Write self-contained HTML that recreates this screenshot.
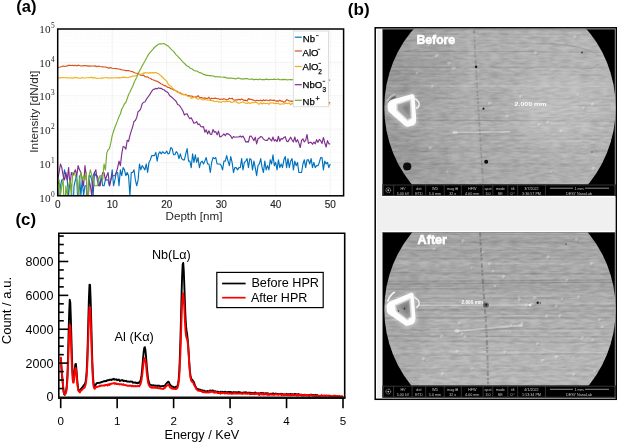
<!DOCTYPE html><html><head><meta charset="utf-8"><style>html,body{margin:0;padding:0;background:#fff;}body{width:617px;height:442px;overflow:hidden;position:relative;font-family:"Liberation Sans",sans-serif;}</style></head><body><svg width="617" height="442" viewBox="0 0 617 442" font-family="Liberation Sans, sans-serif" style="position:absolute;left:0;top:0;filter:blur(0.3px)"><defs><clipPath id="ca"><rect x="57.7" y="29" width="285.9" height="166.8"/></clipPath><clipPath id="cc"><rect x="58.8" y="233.3" width="285.9" height="164.5"/></clipPath></defs><line x1="112.2" y1="29" x2="112.2" y2="195.8" stroke="#ebebeb" stroke-width="0.6"/><line x1="166.7" y1="29" x2="166.7" y2="195.8" stroke="#ebebeb" stroke-width="0.6"/><line x1="221.2" y1="29" x2="221.2" y2="195.8" stroke="#ebebeb" stroke-width="0.6"/><line x1="275.7" y1="29" x2="275.7" y2="195.8" stroke="#ebebeb" stroke-width="0.6"/><line x1="330.2" y1="29" x2="330.2" y2="195.8" stroke="#ebebeb" stroke-width="0.6"/><line x1="57.7" y1="185.76" x2="343.6" y2="185.76" stroke="#f1f1f1" stroke-width="0.5" stroke-dasharray="1.2 1"/><line x1="57.7" y1="179.88" x2="343.6" y2="179.88" stroke="#f1f1f1" stroke-width="0.5" stroke-dasharray="1.2 1"/><line x1="57.7" y1="175.72" x2="343.6" y2="175.72" stroke="#f1f1f1" stroke-width="0.5" stroke-dasharray="1.2 1"/><line x1="57.7" y1="172.48" x2="343.6" y2="172.48" stroke="#f1f1f1" stroke-width="0.5" stroke-dasharray="1.2 1"/><line x1="57.7" y1="169.84" x2="343.6" y2="169.84" stroke="#f1f1f1" stroke-width="0.5" stroke-dasharray="1.2 1"/><line x1="57.7" y1="167.61" x2="343.6" y2="167.61" stroke="#f1f1f1" stroke-width="0.5" stroke-dasharray="1.2 1"/><line x1="57.7" y1="165.67" x2="343.6" y2="165.67" stroke="#f1f1f1" stroke-width="0.5" stroke-dasharray="1.2 1"/><line x1="57.7" y1="163.97" x2="343.6" y2="163.97" stroke="#f1f1f1" stroke-width="0.5" stroke-dasharray="1.2 1"/><line x1="57.7" y1="162.44" x2="343.6" y2="162.44" stroke="#ebebeb" stroke-width="0.6"/><line x1="57.7" y1="152.4" x2="343.6" y2="152.4" stroke="#f1f1f1" stroke-width="0.5" stroke-dasharray="1.2 1"/><line x1="57.7" y1="146.52" x2="343.6" y2="146.52" stroke="#f1f1f1" stroke-width="0.5" stroke-dasharray="1.2 1"/><line x1="57.7" y1="142.36" x2="343.6" y2="142.36" stroke="#f1f1f1" stroke-width="0.5" stroke-dasharray="1.2 1"/><line x1="57.7" y1="139.12" x2="343.6" y2="139.12" stroke="#f1f1f1" stroke-width="0.5" stroke-dasharray="1.2 1"/><line x1="57.7" y1="136.48" x2="343.6" y2="136.48" stroke="#f1f1f1" stroke-width="0.5" stroke-dasharray="1.2 1"/><line x1="57.7" y1="134.25" x2="343.6" y2="134.25" stroke="#f1f1f1" stroke-width="0.5" stroke-dasharray="1.2 1"/><line x1="57.7" y1="132.31" x2="343.6" y2="132.31" stroke="#f1f1f1" stroke-width="0.5" stroke-dasharray="1.2 1"/><line x1="57.7" y1="130.61" x2="343.6" y2="130.61" stroke="#f1f1f1" stroke-width="0.5" stroke-dasharray="1.2 1"/><line x1="57.7" y1="129.08" x2="343.6" y2="129.08" stroke="#ebebeb" stroke-width="0.6"/><line x1="57.7" y1="119.04" x2="343.6" y2="119.04" stroke="#f1f1f1" stroke-width="0.5" stroke-dasharray="1.2 1"/><line x1="57.7" y1="113.16" x2="343.6" y2="113.16" stroke="#f1f1f1" stroke-width="0.5" stroke-dasharray="1.2 1"/><line x1="57.7" y1="109" x2="343.6" y2="109" stroke="#f1f1f1" stroke-width="0.5" stroke-dasharray="1.2 1"/><line x1="57.7" y1="105.76" x2="343.6" y2="105.76" stroke="#f1f1f1" stroke-width="0.5" stroke-dasharray="1.2 1"/><line x1="57.7" y1="103.12" x2="343.6" y2="103.12" stroke="#f1f1f1" stroke-width="0.5" stroke-dasharray="1.2 1"/><line x1="57.7" y1="100.89" x2="343.6" y2="100.89" stroke="#f1f1f1" stroke-width="0.5" stroke-dasharray="1.2 1"/><line x1="57.7" y1="98.95" x2="343.6" y2="98.95" stroke="#f1f1f1" stroke-width="0.5" stroke-dasharray="1.2 1"/><line x1="57.7" y1="97.25" x2="343.6" y2="97.25" stroke="#f1f1f1" stroke-width="0.5" stroke-dasharray="1.2 1"/><line x1="57.7" y1="95.72" x2="343.6" y2="95.72" stroke="#ebebeb" stroke-width="0.6"/><line x1="57.7" y1="85.68" x2="343.6" y2="85.68" stroke="#f1f1f1" stroke-width="0.5" stroke-dasharray="1.2 1"/><line x1="57.7" y1="79.8" x2="343.6" y2="79.8" stroke="#f1f1f1" stroke-width="0.5" stroke-dasharray="1.2 1"/><line x1="57.7" y1="75.64" x2="343.6" y2="75.64" stroke="#f1f1f1" stroke-width="0.5" stroke-dasharray="1.2 1"/><line x1="57.7" y1="72.4" x2="343.6" y2="72.4" stroke="#f1f1f1" stroke-width="0.5" stroke-dasharray="1.2 1"/><line x1="57.7" y1="69.76" x2="343.6" y2="69.76" stroke="#f1f1f1" stroke-width="0.5" stroke-dasharray="1.2 1"/><line x1="57.7" y1="67.53" x2="343.6" y2="67.53" stroke="#f1f1f1" stroke-width="0.5" stroke-dasharray="1.2 1"/><line x1="57.7" y1="65.59" x2="343.6" y2="65.59" stroke="#f1f1f1" stroke-width="0.5" stroke-dasharray="1.2 1"/><line x1="57.7" y1="63.89" x2="343.6" y2="63.89" stroke="#f1f1f1" stroke-width="0.5" stroke-dasharray="1.2 1"/><line x1="57.7" y1="62.36" x2="343.6" y2="62.36" stroke="#ebebeb" stroke-width="0.6"/><line x1="57.7" y1="52.32" x2="343.6" y2="52.32" stroke="#f1f1f1" stroke-width="0.5" stroke-dasharray="1.2 1"/><line x1="57.7" y1="46.44" x2="343.6" y2="46.44" stroke="#f1f1f1" stroke-width="0.5" stroke-dasharray="1.2 1"/><line x1="57.7" y1="42.28" x2="343.6" y2="42.28" stroke="#f1f1f1" stroke-width="0.5" stroke-dasharray="1.2 1"/><line x1="57.7" y1="39.04" x2="343.6" y2="39.04" stroke="#f1f1f1" stroke-width="0.5" stroke-dasharray="1.2 1"/><line x1="57.7" y1="36.4" x2="343.6" y2="36.4" stroke="#f1f1f1" stroke-width="0.5" stroke-dasharray="1.2 1"/><line x1="57.7" y1="34.17" x2="343.6" y2="34.17" stroke="#f1f1f1" stroke-width="0.5" stroke-dasharray="1.2 1"/><line x1="57.7" y1="32.23" x2="343.6" y2="32.23" stroke="#f1f1f1" stroke-width="0.5" stroke-dasharray="1.2 1"/><line x1="57.7" y1="30.53" x2="343.6" y2="30.53" stroke="#f1f1f1" stroke-width="0.5" stroke-dasharray="1.2 1"/><g clip-path="url(#ca)" fill="none" stroke-width="1.15" stroke-linejoin="round"><path d="M57.7 185.76L59.06 215.82L60.43 185.76L61.79 179.88L63.15 179.88L64.51 169.84L65.88 175.72L67.24 179.88L68.6 195.8L69.96 179.88L71.33 185.76L72.69 215.82L74.05 185.76L75.41 179.88L76.78 175.72L78.14 215.82L79.5 175.72L80.86 195.8L82.23 179.88L83.59 195.8L84.95 185.76L86.31 185.76L87.68 215.82L89.04 175.72L90.4 175.72L91.76 179.88L93.12 195.8L94.49 172.48L95.85 175.72L97.21 175.72L98.58 179.88L99.94 185.76L101.3 175.72L102.66 185.76L104.03 185.76L105.39 179.88L106.75 179.88L108.11 179.88L109.47 185.76L110.84 179.88L112.2 169.84L113.56 185.76L114.93 179.88L116.29 172.48L117.65 172.48L119.01 185.76L120.38 169.84L121.74 175.72L123.1 167.61L124.46 169.84L125.83 175.72L127.19 172.48L128.55 175.72L129.91 195.8L131.28 172.48L132.64 172.48L134 169.84L135.36 179.88L136.73 185.76L138.09 179.88L139.45 163.97L140.81 169.84L142.18 165.67L143.54 167.61L144.9 169.84L146.26 163.97L147.62 172.48L148.99 162.44L150.35 159.8L151.71 155.63L153.07 155.63L154.44 155.63L155.8 152.4L157.16 161.06L158.53 153.92L159.89 151.69L161.25 153.92L162.61 151.69L163.98 153.14L165.34 153.14L166.7 151.02L168.06 153.92L169.43 153.14L170.79 147.52L172.15 148.6L173.51 154.75L174.88 154.75L176.24 151.69L177.6 153.14L178.96 158.64L180.32 153.92L181.69 158.64L183.05 159.8L184.41 159.8L185.78 153.92L187.14 148.6L188.5 161.06L189.86 161.06L191.23 167.61L192.59 153.92L193.95 162.44L195.31 154.75L196.68 162.44L198.04 157.57L199.4 167.61L200.76 162.44L202.12 161.06L203.49 163.97L204.85 161.06L206.21 157.57L207.57 163.97L208.94 163.97L210.3 172.48L211.66 162.44L213.03 157.57L214.39 158.64L215.75 157.57L217.11 163.97L218.48 163.97L219.84 163.97L221.2 165.67L222.56 169.84L223.93 161.06L225.29 161.06L226.65 155.63L228.01 161.06L229.38 165.67L230.74 156.57L232.1 162.44L233.46 172.48L234.82 167.61L236.19 167.61L237.55 169.84L238.91 167.61L240.28 167.61L241.64 158.64L243 169.84L244.36 162.44L245.73 161.06L247.09 158.64L248.45 167.61L249.81 158.64L251.18 159.8L252.54 169.84L253.9 161.06L255.26 167.61L256.62 175.72L257.99 165.67L259.35 163.97L260.71 158.64L262.07 167.61L263.44 172.48L264.8 161.06L266.16 169.84L267.53 165.67L268.89 169.84L270.25 159.8L271.61 163.97L272.98 154.75L274.34 165.67L275.7 162.44L277.06 169.84L278.43 159.8L279.79 167.61L281.15 163.97L282.51 167.61L283.88 159.8L285.24 156.57L286.6 167.61L287.96 158.64L289.32 167.61L290.69 161.06L292.05 158.64L293.41 169.84L294.78 161.06L296.14 165.67L297.5 162.44L298.86 172.48L300.23 172.48L301.59 172.48L302.95 163.97L304.31 159.8L305.68 167.61L307.04 159.8L308.4 159.8L309.76 163.97L311.12 158.64L312.49 167.61L313.85 162.44L315.21 167.61L316.57 165.67L317.94 165.67L319.3 162.44L320.66 157.57L322.02 157.57L323.39 169.84L324.75 161.06L326.11 163.97L327.48 162.44L328.84 167.61L330.2 163.97" stroke="#0072BD"/><path d="M57.7 68.07L59.06 67.26L60.43 67.01L61.79 66.52L63.15 65.92L64.51 66.56L65.88 66.2L67.24 65.85L68.6 65.42L69.96 65.2L71.33 65.46L72.69 65.38L74.05 65.58L75.41 65.3L76.78 65.98L78.14 65.11L79.5 65.52L80.86 65.93L82.23 65.97L83.59 65.63L84.95 65.54L86.31 65.85L87.68 65.85L89.04 66.1L90.4 66.15L91.76 66.05L93.12 66L94.49 66.11L95.85 65.94L97.21 66.76L98.58 66.1L99.94 66.54L101.3 66.8L102.66 66.87L104.03 66.97L105.39 66.97L106.75 67.33L108.11 68.11L109.47 67.81L110.84 67.67L112.2 68.3L113.56 68.52L114.93 68.48L116.29 68.61L117.65 69L119.01 68.99L120.38 69.36L121.74 69.81L123.1 70.01L124.46 70.2L125.83 70.61L127.19 70.58L128.55 70.48L129.91 71.03L131.28 71.53L132.64 71.66L134 72.43L135.36 73.04L136.73 73.28L138.09 73.51L139.45 74.5L140.81 75.28L142.18 75.41L143.54 75.1L144.9 76.57L146.26 76.9L147.62 76.91L148.99 78.03L150.35 78.2L151.71 79.52L153.07 79.76L154.44 80.46L155.8 80.82L157.16 81.35L158.53 82.18L159.89 83.09L161.25 83.98L162.61 84.6L163.98 85.58L165.34 85.63L166.7 86.74L168.06 87.39L169.43 87.64L170.79 88.78L172.15 88.93L173.51 89.89L174.88 90.35L176.24 91.02L177.6 91.61L178.96 92.83L180.32 92.89L181.69 93.67L183.05 94.43L184.41 94.62L185.78 94.29L187.14 95.71L188.5 95.55L189.86 95.87L191.23 95.98L192.59 96.34L193.95 97.49L195.31 96.88L196.68 97.18L198.04 95.59L199.4 97.29L200.76 97.56L202.12 97.69L203.49 98.21L204.85 97.87L206.21 98.21L207.57 98.7L208.94 97.21L210.3 99.23L211.66 98.23L213.03 98.52L214.39 98.37L215.75 98.19L217.11 98.72L218.48 98.7L219.84 99.49L221.2 99.03L222.56 99.38L223.93 98.77L225.29 99.23L226.65 99.91L228.01 99.53L229.38 98.18L230.74 98.79L232.1 98.19L233.46 99.81L234.82 100.28L236.19 99.77L237.55 99.87L238.91 99.28L240.28 100L241.64 98.95L243 99.64L244.36 100.42L245.73 100.12L247.09 101.03L248.45 98.61L249.81 99.38L251.18 99.3L252.54 100.06L253.9 100.14L255.26 101.03L256.62 100.24L257.99 100.48L259.35 100.7L260.71 100.12L262.07 100.93L263.44 99.81L264.8 100.64L266.16 100.06L267.53 100.3L268.89 100.76L270.25 99.83L271.61 100.22L272.98 100.38L274.34 100.16L275.7 101.1L277.06 100.87L278.43 101.22L279.79 100.1L281.15 101.18L282.51 101.1L283.88 102.19L285.24 101.5L286.6 99.53L287.96 100.26L289.32 101.01L290.69 101.16L292.05 101.39L293.41 100.74L294.78 102.51L296.14 100.89L297.5 102.07L298.86 101.83L300.23 102.55L301.59 100.99L302.95 101.85L304.31 101.41L305.68 101.65L307.04 101.74L308.4 101.35L309.76 101.35L311.12 101.31L312.49 101.67L313.85 101.31L315.21 102.44L316.57 101.65L317.94 101.59L319.3 101.94L320.66 103.41L322.02 102.16L323.39 102.81L324.75 102.21L326.11 103L327.48 101.94L328.84 102.93L330.2 102.69" stroke="#D95319"/><path d="M57.7 77.44L59.06 78.31L60.43 77.61L61.79 77.77L63.15 77.57L64.51 77.79L65.88 77.48L67.24 78.03L68.6 77.86L69.96 77.96L71.33 77.8L72.69 78.09L74.05 77.69L75.41 77.44L76.78 77.75L78.14 77.89L79.5 78.25L80.86 78.2L82.23 77.47L83.59 77.95L84.95 78.03L86.31 77.75L87.68 77.76L89.04 77.55L90.4 77.76L91.76 77.11L93.12 78.29L94.49 77.57L95.85 78.25L97.21 78.31L98.58 78.29L99.94 78.23L101.3 78.07L102.66 78.17L104.03 77.74L105.39 77.74L106.75 77.44L108.11 78.08L109.47 77.96L110.84 77.73L112.2 77.86L113.56 78.03L114.93 77.78L116.29 77.63L117.65 77.99L119.01 77.61L120.38 77.91L121.74 77.5L123.1 77.08L124.46 77.33L125.83 77.21L127.19 77.77L128.55 77.57L129.91 76.85L131.28 76.88L132.64 76.11L134 76.16L135.36 75.98L136.73 75.38L138.09 74.8L139.45 74.29L140.81 74.27L142.18 73.73L143.54 73.13L144.9 72.66L146.26 73.03L147.62 72.69L148.99 73.14L150.35 72.61L151.71 72.87L153.07 72.65L154.44 72.83L155.8 72.59L157.16 73.15L158.53 73.81L159.89 74.9L161.25 76.02L162.61 77.24L163.98 78.71L165.34 79.99L166.7 81.12L168.06 83.8L169.43 85.54L170.79 86.04L172.15 87.62L173.51 88.88L174.88 90.4L176.24 90.95L177.6 92.53L178.96 92.35L180.32 93.73L181.69 94.01L183.05 94.67L184.41 94.67L185.78 94.9L187.14 95.73L188.5 96.45L189.86 96.34L191.23 98.33L192.59 97.89L193.95 97.52L195.31 97.49L196.68 98.67L198.04 99.25L199.4 98.56L200.76 98.88L202.12 99.53L203.49 99.91L204.85 99.26L206.21 99.85L207.57 99.97L208.94 100L210.3 100.34L211.66 100.58L213.03 100.54L214.39 101.48L215.75 101.54L217.11 101.31L218.48 102.07L219.84 101.83L221.2 102.37L222.56 101.78L223.93 101.29L225.29 101.92L226.65 101.24L228.01 101.7L229.38 101.29L230.74 101.85L232.1 102.44L233.46 101.65L234.82 101.76L236.19 101.81L237.55 102.91L238.91 103.17L240.28 102.83L241.64 102.3L243 101.65L244.36 102.72L245.73 103.07L247.09 103.54L248.45 102.48L249.81 103.64L251.18 102.86L252.54 102.58L253.9 102.79L255.26 102.3L256.62 102.35L257.99 103.74L259.35 104.25L260.71 102.65L262.07 103.97L263.44 103.1L264.8 103.56L266.16 103.46L267.53 103.27L268.89 104.43L270.25 102.72L271.61 103.02L272.98 102.72L274.34 103.79L275.7 103.15L277.06 103.79L278.43 103.1L279.79 104.36L281.15 103.99L282.51 103.86L283.88 104.04L285.24 103.17L286.6 103.41L287.96 103.59L289.32 102.95L290.69 104.76L292.05 103.12L293.41 104.33L294.78 103.24L296.14 103.74L297.5 103.49L298.86 103.02L300.23 103.39L301.59 103.24L302.95 103.64L304.31 103.69L305.68 103.49L307.04 103.86L308.4 104.38L309.76 104.33L311.12 103.91L312.49 103.44L313.85 102.86L315.21 103.99L316.57 103.32L317.94 103.51L319.3 103.69L320.66 103.29L322.02 103.97L323.39 104.46L324.75 103.32L326.11 104.3L327.48 104.67L328.84 103.54L330.2 104.38" stroke="#EDB120"/><path d="M57.7 179.88L59.06 172.48L60.43 163.97L61.79 167.61L63.15 175.72L64.51 179.88L65.88 172.48L67.24 179.88L68.6 167.61L69.96 185.76L71.33 172.48L72.69 175.72L74.05 172.48L75.41 169.84L76.78 175.72L78.14 165.67L79.5 169.84L80.86 172.48L82.23 179.88L83.59 185.76L84.95 165.67L86.31 175.72L87.68 215.82L89.04 179.88L90.4 185.76L91.76 195.8L93.12 175.72L94.49 172.48L95.85 169.84L97.21 179.88L98.58 185.76L99.94 185.76L101.3 179.88L102.66 172.48L104.03 172.48L105.39 179.88L106.75 175.72L108.11 172.48L109.47 185.76L110.84 179.88L112.2 175.72L113.56 175.72L114.93 175.72L116.29 172.48L117.65 167.61L119.01 161.06L120.38 165.67L121.74 153.92L123.1 146.52L124.46 147.01L125.83 149.16L127.19 140.33L128.55 141.31L129.91 135.55L131.28 130.93L132.64 126.81L134 121.48L135.36 120.48L136.73 117.4L138.09 111.52L139.45 110.85L140.81 108.46L142.18 103.84L143.54 102.25L144.9 102.01L146.26 99.45L147.62 97.49L148.99 95.62L150.35 93.61L151.71 91.29L153.07 89.49L154.44 89.17L155.8 88.41L157.16 88.84L158.53 87.84L159.89 88.42L161.25 88.26L162.61 89.48L163.98 89.76L165.34 91.02L166.7 91.83L168.06 92.74L169.43 95.25L170.79 96.59L172.15 97.38L173.51 98.79L174.88 100.16L176.24 101.48L177.6 104.43L178.96 105L180.32 106.72L181.69 108.71L183.05 111.31L184.41 115.07L185.78 114.01L187.14 113.75L188.5 116.7L189.86 118.75L191.23 117.79L192.59 120.4L193.95 123.3L195.31 122.82L196.68 121.65L198.04 124.41L199.4 124L200.76 126.44L202.12 126.93L203.49 126.68L204.85 132.13L206.21 129.82L207.57 133.84L208.94 130.77L210.3 134.25L211.66 134.46L213.03 129.52L214.39 132.31L215.75 131.61L217.11 134.88L218.48 131.1L219.84 136.97L221.2 136.48L222.56 135.32L223.93 133.84L225.29 135.77L226.65 133.64L228.01 133.84L229.38 134.67L230.74 136.01L232.1 138.55L233.46 136.48L234.82 137.22L236.19 136.97L237.55 136.97L238.91 136.97L240.28 136.01L241.64 137.22L243 136.01L244.36 138.55L245.73 142L247.09 141.65L248.45 142L249.81 136.24L251.18 136.01L252.54 138.28L253.9 140.65L255.26 137.22L256.62 143.88L257.99 138.84L259.35 138.01L260.71 136.48L262.07 136.97L263.44 139.12L264.8 140.02L266.16 140.33L267.53 140.33L268.89 137.74L270.25 139.42L271.61 140.97L272.98 136.97L274.34 140.97L275.7 139.71L277.06 141.65L278.43 136.24L279.79 141.31L281.15 138.55L282.51 139.12L283.88 137.48L285.24 136.72L286.6 140.97L287.96 141.65L289.32 139.42L290.69 137.22L292.05 140.02L293.41 142L294.78 136.97L296.14 142L297.5 139.71L298.86 143.1L300.23 147.52L301.59 140.33L302.95 138.84L304.31 142L305.68 140.33L307.04 134.46L308.4 143.48L309.76 142.36L311.12 142.36L312.49 144.29L313.85 142L315.21 143.88L316.57 139.71L317.94 142.36L319.3 139.42L320.66 140.65L322.02 143.48L323.39 137.48L324.75 142.72L326.11 147.01L327.48 140.65L328.84 143.88L330.2 143.88" stroke="#7E2F8E"/><path d="M57.7 185.76L59.06 179.88L60.43 195.8L61.79 185.76L63.15 179.88L64.51 215.82L65.88 185.76L67.24 195.8L68.6 185.76L69.96 179.88L71.33 195.8L72.69 172.48L74.05 172.48L75.41 175.72L76.78 179.88L78.14 195.8L79.5 179.88L80.86 172.48L82.23 179.88L83.59 175.72L84.95 179.88L86.31 172.48L87.68 215.82L89.04 175.72L90.4 169.84L91.76 175.72L93.12 179.88L94.49 185.76L95.85 185.76L97.21 185.76L98.58 179.88L99.94 175.72L101.3 175.72L102.66 179.88L104.03 163.97L105.39 169.84L106.75 153.14L108.11 149.76L109.47 148.6L110.84 142.72L112.2 135.55L113.56 131.27L114.93 127.31L116.29 123.7L117.65 120.4L119.01 116.52L120.38 114.01L121.74 109L123.1 106.81L124.46 103.69L125.83 102.53L127.19 98.72L128.55 94.56L129.91 92.21L131.28 89.04L132.64 86.43L134 82.79L135.36 79.88L136.73 77.41L138.09 73.83L139.45 70.92L140.81 68.63L142.18 65.84L143.54 63.51L144.9 61.05L146.26 58.45L147.62 55.93L148.99 53.86L150.35 52.17L151.71 50.54L153.07 49.03L154.44 47.5L155.8 46.25L157.16 45.21L158.53 44.26L159.89 43.92L161.25 43.86L162.61 43.72L163.98 43.61L165.34 44.41L166.7 45.13L168.06 45.92L169.43 47.42L170.79 48.83L172.15 50.15L173.51 51.38L174.88 53.06L176.24 54.86L177.6 56.09L178.96 57.79L180.32 58.89L181.69 60.52L183.05 62.26L184.41 63.36L185.78 64.73L187.14 65.97L188.5 66.41L189.86 68.08L191.23 68.56L192.59 69.24L193.95 70.48L195.31 70.9L196.68 70.96L198.04 71.72L199.4 72.61L200.76 72.86L202.12 73.55L203.49 74.4L204.85 74.64L206.21 75.31L207.57 75.26L208.94 75.58L210.3 75.45L211.66 75.91L213.03 76.02L214.39 76.35L215.75 76.96L217.11 76.54L218.48 76.95L219.84 76.75L221.2 77.05L222.56 77.27L223.93 77.08L225.29 77.42L226.65 77.87L228.01 78.15L229.38 78.13L230.74 77.96L232.1 78.2L233.46 78.42L234.82 78.65L236.19 78.81L237.55 78.06L238.91 78.06L240.28 78.67L241.64 79.07L243 78.75L244.36 78.91L245.73 78.67L247.09 78.45L248.45 79.23L249.81 79.3L251.18 79L252.54 79.13L253.9 79.81L255.26 79.39L256.62 79.21L257.99 79.82L259.35 79L260.71 79.38L262.07 79.64L263.44 79.47L264.8 79.63L266.16 79.15L267.53 79.34L268.89 79.8L270.25 79.31L271.61 79.48L272.98 79.52L274.34 79.14L275.7 79.48L277.06 79.26L278.43 79.13L279.79 79.74L281.15 79.7L282.51 79.36L283.88 79.64L285.24 79.34L286.6 79.91L287.96 79.72L289.32 79.66L290.69 79.54L292.05 79.87L293.41 79.42L294.78 79.38L296.14 79.77L297.5 79.51L298.86 79.21L300.23 79.85L301.59 79.49L302.95 79.58L304.31 79.35L305.68 79.51L307.04 79.59L308.4 80.27L309.76 79.5L311.12 79.3L312.49 79.63L313.85 80.15L315.21 79.41L316.57 79.99L317.94 79.78L319.3 79.56L320.66 80.06L322.02 79.13L323.39 79.91L324.75 79.62L326.11 79.81L327.48 79.5L328.84 80.19L330.2 80.19" stroke="#77AC30"/></g><rect x="57.7" y="29" width="285.9" height="166.8" fill="none" stroke="#000" stroke-width="1.5"/><text x="57.7" y="207.6" text-anchor="middle" font-size="10" fill="#262626" stroke="#262626" stroke-width="0.15">0</text><text x="112.2" y="207.6" text-anchor="middle" font-size="10" fill="#262626" stroke="#262626" stroke-width="0.15">10</text><text x="166.7" y="207.6" text-anchor="middle" font-size="10" fill="#262626" stroke="#262626" stroke-width="0.15">20</text><text x="221.2" y="207.6" text-anchor="middle" font-size="10" fill="#262626" stroke="#262626" stroke-width="0.15">30</text><text x="275.7" y="207.6" text-anchor="middle" font-size="10" fill="#262626" stroke="#262626" stroke-width="0.15">40</text><text x="330.2" y="207.6" text-anchor="middle" font-size="10" fill="#262626" stroke="#262626" stroke-width="0.15">50</text><text x="50.5" y="201.7" text-anchor="end" font-family="Liberation Serif, serif" font-size="10.6" fill="#262626" textLength="11.2" lengthAdjust="spacingAndGlyphs">10</text><text x="51" y="196.5" font-family="Liberation Serif, serif" font-size="7.4" fill="#262626">0</text><text x="50.5" y="167.96" text-anchor="end" font-family="Liberation Serif, serif" font-size="10.6" fill="#262626" textLength="11.2" lengthAdjust="spacingAndGlyphs">10</text><text x="51" y="162.76" font-family="Liberation Serif, serif" font-size="7.4" fill="#262626">1</text><text x="50.5" y="134.22" text-anchor="end" font-family="Liberation Serif, serif" font-size="10.6" fill="#262626" textLength="11.2" lengthAdjust="spacingAndGlyphs">10</text><text x="51" y="129.02" font-family="Liberation Serif, serif" font-size="7.4" fill="#262626">2</text><text x="50.5" y="100.48" text-anchor="end" font-family="Liberation Serif, serif" font-size="10.6" fill="#262626" textLength="11.2" lengthAdjust="spacingAndGlyphs">10</text><text x="51" y="95.28" font-family="Liberation Serif, serif" font-size="7.4" fill="#262626">3</text><text x="50.5" y="66.74" text-anchor="end" font-family="Liberation Serif, serif" font-size="10.6" fill="#262626" textLength="11.2" lengthAdjust="spacingAndGlyphs">10</text><text x="51" y="61.54" font-family="Liberation Serif, serif" font-size="7.4" fill="#262626">4</text><text x="50.5" y="33" text-anchor="end" font-family="Liberation Serif, serif" font-size="10.6" fill="#262626" textLength="11.2" lengthAdjust="spacingAndGlyphs">10</text><text x="51" y="27.8" font-family="Liberation Serif, serif" font-size="7.4" fill="#262626">5</text><text x="194" y="219.5" text-anchor="middle" font-size="10.6" fill="#262626" textLength="57" lengthAdjust="spacingAndGlyphs">Depth [nm]</text><text transform="translate(37.6 111.7) rotate(-90)" x="0" y="0" text-anchor="middle" font-size="10.2" fill="#262626" textLength="82" lengthAdjust="spacingAndGlyphs">Intensity [dN/dt]</text><rect x="293.3" y="31" width="35.3" height="75.8" fill="#fff" stroke="#d4d4d4" stroke-width="0.8"/><line x1="294.8" y1="37.2" x2="301.8" y2="37.2" stroke="#0072BD" stroke-width="1.2"/><line x1="294.8" y1="51" x2="301.8" y2="51" stroke="#D95319" stroke-width="1.2"/><line x1="294.8" y1="66.5" x2="301.8" y2="66.5" stroke="#EDB120" stroke-width="1.2"/><line x1="294.8" y1="84.7" x2="301.8" y2="84.7" stroke="#7E2F8E" stroke-width="1.2"/><line x1="294.8" y1="100.3" x2="301.8" y2="100.3" stroke="#77AC30" stroke-width="1.2"/><g font-size="9.6" fill="#000" stroke="#000" stroke-width="0.25"><text x="302.8" y="41.8">Nb</text><text x="302.6" y="55.5">AlO</text><text x="302.6" y="69.8">AlO</text><text x="318.2" y="73.9" font-size="6.4">2</text><text x="302.6" y="87.8">NbO</text><text x="322.4" y="92.1" font-size="6.4">3</text><text x="302.6" y="104.8">Nb</text><text x="315.5" y="101.2" font-size="7">+</text></g><line x1="316.0" y1="35.6" x2="318.6" y2="35.6" stroke="#000" stroke-width="0.75"/><line x1="317.6" y1="49.3" x2="320.20000000000005" y2="49.3" stroke="#000" stroke-width="0.75"/><line x1="318.4" y1="63.4" x2="321.0" y2="63.4" stroke="#000" stroke-width="0.75"/><line x1="322.6" y1="81.3" x2="325.20000000000005" y2="81.3" stroke="#000" stroke-width="0.75"/><g clip-path="url(#cc)" fill="none" stroke-linejoin="round"><path d="M60.7 357.93L61.26 365.03L61.83 373.49L62.39 378.98L62.96 385.16L63.52 391.03L64.09 394.13L64.65 394.74L65.22 393.74L65.78 392.2L66.35 389.75L66.91 384.13L67.48 374.06L68.04 356.65L68.6 333.39L69.17 312.28L69.73 299.79L70.3 302.42L70.86 318.45L71.43 339.02L71.99 358.59L72.56 372.13L73.12 378.75L73.69 378.7L74.25 374.75L74.81 368.53L75.38 364.17L75.94 363.99L76.51 370.3L77.07 377.88L77.64 384.74L78.2 388.86L78.77 390.63L79.33 390.62L79.9 390.16L80.46 389.66L81.03 388.77L81.59 388.37L82.15 387.37L82.72 386.9L83.28 385.92L83.85 385.13L84.41 384.87L84.98 383.49L85.54 382.13L86.11 377.93L86.67 371.35L87.24 358.64L87.8 340.32L88.37 318.32L88.93 297.69L89.49 284.65L90.06 284.88L90.62 298.75L91.19 319.17L91.75 342.64L92.32 361.42L92.88 374.38L93.45 382L94.01 386.36L94.58 386.51L95.14 385.59L95.71 384.79L96.27 383.63L96.83 383.1L97.4 382.88L97.96 383.03L98.53 382.87L99.09 382.73L99.66 382.72L100.22 382.6L100.79 382.61L101.35 381.95L101.92 382.03L102.48 381.91L103.05 381.66L103.61 381.41L104.17 381L104.74 381.37L105.3 381.27L105.87 380.94L106.43 381.11L107 380.32L107.56 380.29L108.13 380.22L108.69 380.33L109.26 379.93L109.82 379.69L110.38 379.72L110.95 379.82L111.51 380.11L112.08 379.17L112.64 379.43L113.21 379.44L113.77 378.77L114.34 379.04L114.9 379.68L115.47 379.38L116.03 379.53L116.6 379.25L117.16 380.23L117.72 379.87L118.29 379.9L118.85 379.53L119.42 380.39L119.98 381.06L120.55 380.69L121.11 380.28L121.68 380.22L122.24 380.04L122.81 380.53L123.37 380.97L123.94 380.54L124.5 380.89L125.06 381.03L125.63 381.04L126.19 380.74L126.76 381.48L127.32 381.6L127.89 381.39L128.45 381.47L129.02 381.77L129.58 381.87L130.15 381.57L130.71 381.36L131.28 381.63L131.84 381.71L132.4 381.63L132.97 382.7L133.53 382.64L134.1 382.48L134.66 382.71L135.23 382.73L135.79 382.49L136.36 382.99L136.92 382.82L137.49 383.38L138.05 383.11L138.61 382.39L139.18 382.83L139.74 382.12L140.31 380.97L140.87 379.34L141.44 375.65L142 370.81L142.57 364.34L143.13 357.85L143.7 351.94L144.26 347.89L144.83 347.13L145.39 349.69L145.95 355.55L146.52 362.6L147.08 369.42L147.65 374.79L148.21 379.49L148.78 381.56L149.34 383.97L149.91 384.62L150.47 384.62L151.04 384.96L151.6 385.53L152.17 385.42L152.73 385.66L153.29 385.23L153.86 385.37L154.42 385.79L154.99 385.5L155.55 385.78L156.12 385.73L156.68 385.74L157.25 385.97L157.81 385.71L158.38 385.75L158.94 385.8L159.5 385.64L160.07 386.11L160.63 386.52L161.2 386.26L161.76 386.09L162.33 386.17L162.89 386L163.46 385.88L164.02 386.02L164.59 385.73L165.15 385.49L165.72 384.14L166.28 383.64L166.84 383.01L167.41 382.36L167.97 381.93L168.54 381.62L169.1 382.58L169.67 384.29L170.23 384.78L170.8 385.46L171.36 385.93L171.93 386.38L172.49 386.89L173.06 386.69L173.62 387.05L174.18 387.61L174.75 387.18L175.31 387.19L175.88 386.72L176.44 386.6L177.01 386.87L177.57 385.49L178.14 383.23L178.7 379.14L179.27 371.29L179.83 358.05L180.4 340.32L180.96 318.94L181.52 296.87L182.09 276.5L182.65 264.61L183.22 262.87L183.78 270.9L184.35 286.14L184.91 302.48L185.48 316.77L186.04 326.17L186.61 330.93L187.17 334.54L187.74 339.8L188.3 346.67L188.86 355.78L189.43 365.04L189.99 371.76L190.56 376L191.12 378.72L191.69 379.18L192.25 379.65L192.82 380.87L193.38 381.48L193.95 382.2L194.51 384.21L195.07 385.69L195.64 386.71L196.2 387.96L196.77 388.69L197.33 388.74L197.9 389.28L198.46 389.3L199.03 389.38L199.59 389.86L200.16 389.76L200.72 389.96L201.29 390.26L201.85 390.48L202.41 390.3L202.98 390.61L203.54 390.63L204.11 390.6L204.67 390.76L205.24 391.58L205.8 391.5L206.37 391.32L206.93 391.2L207.5 390.95L208.06 391.53L208.63 391.37L209.19 391.04L209.75 390.61L210.32 390.44L210.88 391.04L211.45 390.67L212.01 390.72L212.58 390.39L213.14 390.68L213.71 391.1L214.27 391.34L214.84 391.24L215.4 391.2L215.97 391.79L216.53 391.71L217.09 391.63L217.66 391.72L218.22 391.68L218.79 392.14L219.35 392.08L219.92 392.59L220.48 391.95L221.05 391.66L221.61 392.63L222.18 392.21L222.74 391.76L223.3 392.1L223.87 392.65L224.43 391.73L225 392.54L225.56 391.7L226.13 392.32L226.69 392.37L227.26 392.16L227.82 392.2L228.39 392.02L228.95 392.07L229.52 392.28L230.08 391.85L230.64 392.06L231.21 392.21L231.77 392.27L232.34 392.35L232.9 392.37L233.47 392.16L234.03 392.23L234.6 392.38L235.16 392.1L235.73 392.51L236.29 392.31L236.86 392.2L237.42 392.82L237.98 392.57L238.55 392L239.11 392.82L239.68 392.19L240.24 392.88L240.81 392.46L241.37 392.93L241.94 392.82L242.5 392.77L243.07 392.84L243.63 392.39L244.19 392.47L244.76 392.48L245.32 392.71L245.89 392.29L246.45 392.5L247.02 392.74L247.58 393.18L248.15 392.67L248.71 392.71L249.28 392.9L249.84 392.74L250.41 392.74L250.97 393.09L251.53 392.85L252.1 392.94L252.66 392.97L253.23 393.2L253.79 393.26L254.36 393.1L254.92 392.72L255.49 392.47L256.05 393.32L256.62 393.55L257.18 393.36L257.75 393.53L258.31 393.43L258.87 393.2L259.44 393.62L260 393.18L260.57 393.15L261.13 392.95L261.7 392.88L262.26 393.15L262.83 392.79L263.39 393.66L263.96 393.44L264.52 393.5L265.09 393.44L265.65 393.28L266.21 393.72L266.78 393.12L267.34 393.28L267.91 393.58L268.47 393.57L269.04 394.03L269.6 394.51L270.17 393.81L270.73 393.7L271.3 393.75L271.86 394.17L272.43 393.99L272.99 393.33L273.55 393.66L274.12 393.72L274.68 394.02L275.25 393.72L275.81 393.57L276.38 393.75L276.94 394.12L277.51 393.92L278.07 394.3L278.64 394.14L279.2 393.89L279.76 394.24L280.33 394.17L280.89 393.68L281.46 394.19L282.02 393.92L282.59 394.26L283.15 394.53L283.72 394.21L284.28 394.33L284.85 394.85L285.41 394.63L285.98 394.41L286.54 393.85L287.1 394.49L287.67 394.34L288.23 394.16L288.8 394.28L289.36 394.49L289.93 393.89L290.49 394.02L291.06 395.18L291.62 394.17L292.19 394.31L292.75 394.2L293.32 394.49L293.88 394.28L294.44 393.97L295.01 394.05L295.57 394.04L296.14 394.28L296.7 394.34L297.27 394.35L297.83 394.99L298.4 393.99L298.96 394.62L299.53 394.61L300.09 394.69L300.66 394.6L301.22 395.4L301.78 394.71L302.35 395.18L302.91 395.12L303.48 395.4L304.04 395.37L304.61 394.69L305.17 395.04L305.74 394.94L306.3 394.98L306.87 395.29L307.43 395.18L307.99 395.36L308.56 395.09L309.12 395.69L309.69 395.15L310.25 394.78L310.82 394.71L311.38 394.74L311.95 394.96L312.51 395.43L313.08 394.87L313.64 395L314.21 395.1L314.77 395.56L315.33 395.1L315.9 394.81L316.46 395.03L317.03 395.34L317.59 395.12L318.16 395.3" stroke="#000" stroke-width="1.9"/><path d="M60.7 356.77L61.26 364.16L61.83 371.65L62.39 378.33L62.96 384.02L63.52 391.28L64.09 393.94L64.65 394.38L65.22 394.23L65.78 393.34L66.35 391L66.91 386.62L67.48 378.29L68.04 365.68L68.6 348.75L69.17 333.43L69.73 324.5L70.3 326.59L70.86 338.03L71.43 353.87L71.99 368.33L72.56 378.8L73.12 382.68L73.69 382.6L74.25 378.82L74.81 373.2L75.38 367.94L75.94 368.56L76.51 373.81L77.07 380.92L77.64 386.17L78.2 390.25L78.77 391.21L79.33 391.69L79.9 392.41L80.46 390.78L81.03 390.72L81.59 390.46L82.15 389.76L82.72 388.89L83.28 388.41L83.85 388.02L84.41 387.91L84.98 386.55L85.54 384.99L86.11 381.76L86.67 376.39L87.24 366.13L87.8 351.29L88.37 333.87L88.93 317.13L89.49 307.04L90.06 307.19L90.62 317.54L91.19 335.28L91.75 352.97L92.32 368.06L92.88 379.41L93.45 385.39L94.01 387.67L94.58 388.87L95.14 388.33L95.71 387.44L96.27 386.97L96.83 387L97.4 386.79L97.96 386.66L98.53 386.61L99.09 386.27L99.66 385.74L100.22 386.02L100.79 385.53L101.35 385.7L101.92 385.56L102.48 385.54L103.05 385.71L103.61 385.39L104.17 385.32L104.74 385.65L105.3 384.98L105.87 384.93L106.43 384.89L107 385.08L107.56 385.61L108.13 384.22L108.69 384.55L109.26 385.05L109.82 384.05L110.38 384.32L110.95 383.76L111.51 383.86L112.08 383.35L112.64 383.48L113.21 383.33L113.77 383.23L114.34 383.01L114.9 383.88L115.47 383.22L116.03 383.48L116.6 383.96L117.16 383.89L117.72 384.13L118.29 384.07L118.85 383.91L119.42 384.5L119.98 384.17L120.55 384.21L121.11 384.41L121.68 384.23L122.24 384.83L122.81 384.65L123.37 384.17L123.94 384.97L124.5 385.08L125.06 385.1L125.63 384.98L126.19 385.41L126.76 385.36L127.32 385.88L127.89 385.72L128.45 385.77L129.02 385.87L129.58 385.72L130.15 385.43L130.71 385.82L131.28 386.16L131.84 385.75L132.4 385.81L132.97 386.33L133.53 385.9L134.1 386.32L134.66 386.22L135.23 386.3L135.79 385.87L136.36 386.41L136.92 386.3L137.49 386.18L138.05 385.93L138.61 385.86L139.18 386.39L139.74 385.34L140.31 384.77L140.87 382.92L141.44 380.32L142 376.95L142.57 371.85L143.13 366.58L143.7 361.59L144.26 358.13L144.83 358.11L145.39 360.52L145.95 363.86L146.52 370.3L147.08 375.29L147.65 379.7L148.21 383.29L148.78 384.71L149.34 385.81L149.91 386.78L150.47 387.04L151.04 387.25L151.6 387.82L152.17 387.26L152.73 387.79L153.29 387.78L153.86 387.43L154.42 387.34L154.99 387.96L155.55 387.42L156.12 387.29L156.68 387.85L157.25 388L157.81 387.98L158.38 388.23L158.94 388.44L159.5 388.05L160.07 388.1L160.63 388.54L161.2 388.58L161.76 388.71L162.33 388.74L162.89 388.81L163.46 388.92L164.02 388.05L164.59 388.18L165.15 387.62L165.72 386.48L166.28 386.43L166.84 385.36L167.41 385.4L167.97 384.98L168.54 384.8L169.1 385.67L169.67 386.8L170.23 387.61L170.8 387.68L171.36 388.53L171.93 388.32L172.49 388.61L173.06 388.87L173.62 388.83L174.18 388.61L174.75 388.84L175.31 389.14L175.88 388.74L176.44 388.84L177.01 388.48L177.57 387.43L178.14 385.71L178.7 382L179.27 376.18L179.83 366.57L180.4 353.01L180.96 336.26L181.52 319.23L182.09 304.11L182.65 294.95L183.22 293.34L183.78 299.03L184.35 308.99L184.91 321.52L185.48 330.53L186.04 335.77L186.61 337.97L187.17 339.55L187.74 342.58L188.3 349.75L188.86 357.63L189.43 366.38L189.99 373.62L190.56 377.98L191.12 380.27L191.69 381.52L192.25 381.42L192.82 382.23L193.38 383.05L193.95 384.61L194.51 385.42L195.07 386.96L195.64 387.2L196.2 388.87L196.77 389.45L197.33 389.9L197.9 390.5L198.46 390.69L199.03 390.83L199.59 390.56L200.16 391.1L200.72 391.1L201.29 391.12L201.85 391.5L202.41 391.95L202.98 392.06L203.54 391.99L204.11 392.31L204.67 391.9L205.24 392.34L205.8 392.34L206.37 392.63L206.93 392.16L207.5 392.42L208.06 392.58L208.63 392.48L209.19 391.48L209.75 392.26L210.32 392.24L210.88 391.53L211.45 391.55L212.01 391.75L212.58 391.41L213.14 392.41L213.71 392.28L214.27 392.77L214.84 392.04L215.4 392.59L215.97 391.88L216.53 392.56L217.09 392.6L217.66 393.12L218.22 393.18L218.79 393.03L219.35 392.66L219.92 393.29L220.48 393.7L221.05 392.76L221.61 392.76L222.18 393.32L222.74 392.93L223.3 392.75L223.87 392.75L224.43 393.58L225 393.11L225.56 393.38L226.13 392.88L226.69 393.15L227.26 393.55L227.82 393.18L228.39 393.05L228.95 393.71L229.52 393.66L230.08 393.48L230.64 393.39L231.21 393.48L231.77 393.87L232.34 393.81L232.9 393.37L233.47 393.25L234.03 393.66L234.6 393.36L235.16 392.86L235.73 393.5L236.29 393.58L236.86 393.68L237.42 393.34L237.98 393.43L238.55 393.43L239.11 393.63L239.68 393.41L240.24 393.43L240.81 393.61L241.37 393.24L241.94 394.06L242.5 393.4L243.07 393.67L243.63 393.4L244.19 393.1L244.76 393.66L245.32 393.75L245.89 393.72L246.45 393.31L247.02 393.28L247.58 393.71L248.15 393.58L248.71 393.25L249.28 393.64L249.84 394.27L250.41 394.08L250.97 394L251.53 393.75L252.1 394.05L252.66 393.49L253.23 394.06L253.79 393.46L254.36 394.15L254.92 393.56L255.49 393.93L256.05 393.57L256.62 393.43L257.18 393.5L257.75 393.73L258.31 394.29L258.87 394.32L259.44 395.05L260 393.67L260.57 393.75L261.13 393.83L261.7 394.5L262.26 393.34L262.83 394.39L263.39 393.95L263.96 394.71L264.52 394.42L265.09 393.89L265.65 393.96L266.21 394.61L266.78 394.33L267.34 393.98L267.91 394.89L268.47 394.12L269.04 394.84L269.6 394.2L270.17 394.49L270.73 394.13L271.3 394.59L271.86 394.56L272.43 394.57L272.99 394.77L273.55 394.58L274.12 394.82L274.68 394.7L275.25 394.34L275.81 394.65L276.38 394.25L276.94 394.37L277.51 394.35L278.07 394.96L278.64 394.5L279.2 394.2L279.76 394.38L280.33 394.29L280.89 394.22L281.46 395.15L282.02 394.53L282.59 394.55L283.15 394.79L283.72 395.14L284.28 394.71L284.85 394.82L285.41 394.19L285.98 394.4L286.54 394.94L287.1 395.14L287.67 395.09L288.23 394.87L288.8 395.08L289.36 394.28L289.93 395.25L290.49 394.93L291.06 394.87L291.62 394.8L292.19 395.22L292.75 395.02L293.32 394.91L293.88 394.88L294.44 395.17L295.01 395.1L295.57 394.95L296.14 394.45L296.7 395.41L297.27 394.85L297.83 394.59L298.4 395.51L298.96 394.66L299.53 394.68L300.09 395.1L300.66 394.84L301.22 394.7L301.78 395.2L302.35 395.1L302.91 395.5L303.48 395.4L304.04 395.18L304.61 395.24L305.17 394.74L305.74 395.31L306.3 395.62L306.87 395L307.43 395L307.99 395.17L308.56 395.35L309.12 395.56L309.69 395.53L310.25 394.89L310.82 395.12L311.38 395.34L311.95 395.26L312.51 395.5L313.08 395.69L313.64 395.57L314.21 395.46L314.77 395.95L315.33 395.91L315.9 396.01L316.46 395.64L317.03 395.33L317.59 395.93L318.16 395.89L318.72 396.05L319.29 395.73L319.85 395.96L320.42 395.93L320.98 395.98L321.55 394.98L322.11 395.71L322.67 395.9L323.24 395.85L323.8 395.47L324.37 395.46L324.93 395.69L325.5 396.38L326.06 395.5L326.63 395.5L327.19 395.6L327.76 395.71L328.32 395.85L328.88 395.52L329.45 396L330.01 395.61L330.58 396.08L331.14 396.07L331.71 396.11L332.27 396.16L332.84 396.16L333.4 395.8L333.97 395.57L334.53 396.27L335.1 396.39L335.66 395.72L336.22 396.21L336.79 396.05L337.35 396.1L337.92 395.89L338.48 396.45L339.05 395.85L339.61 395.97L340.18 396.9L340.74 396.3L341.31 396.38L341.87 396.17L342.44 396.32L343 396.55" stroke="#ff0000" stroke-width="1.9"/></g><path d="M58.8 398 V233.3 H344.7 V398" fill="none" stroke="#000" stroke-width="1.6"/><line x1="58" y1="397.8" x2="345.5" y2="397.8" stroke="#111" stroke-width="2.4"/><line x1="58.8" y1="388.53" x2="63.8" y2="388.53" stroke="#000" stroke-width="1.6"/><line x1="58.8" y1="380.06" x2="63.8" y2="380.06" stroke="#000" stroke-width="1.6"/><line x1="58.8" y1="371.59" x2="63.8" y2="371.59" stroke="#000" stroke-width="1.6"/><line x1="58.8" y1="363.12" x2="68.3" y2="363.12" stroke="#000" stroke-width="1.6"/><line x1="58.8" y1="354.65" x2="63.8" y2="354.65" stroke="#000" stroke-width="1.6"/><line x1="58.8" y1="346.18" x2="63.8" y2="346.18" stroke="#000" stroke-width="1.6"/><line x1="58.8" y1="337.71" x2="63.8" y2="337.71" stroke="#000" stroke-width="1.6"/><line x1="58.8" y1="329.24" x2="68.3" y2="329.24" stroke="#000" stroke-width="1.6"/><line x1="58.8" y1="320.77" x2="63.8" y2="320.77" stroke="#000" stroke-width="1.6"/><line x1="58.8" y1="312.3" x2="63.8" y2="312.3" stroke="#000" stroke-width="1.6"/><line x1="58.8" y1="303.83" x2="63.8" y2="303.83" stroke="#000" stroke-width="1.6"/><line x1="58.8" y1="295.36" x2="68.3" y2="295.36" stroke="#000" stroke-width="1.6"/><line x1="58.8" y1="286.89" x2="63.8" y2="286.89" stroke="#000" stroke-width="1.6"/><line x1="58.8" y1="278.42" x2="63.8" y2="278.42" stroke="#000" stroke-width="1.6"/><line x1="58.8" y1="269.95" x2="63.8" y2="269.95" stroke="#000" stroke-width="1.6"/><line x1="58.8" y1="261.48" x2="68.3" y2="261.48" stroke="#000" stroke-width="1.6"/><line x1="58.8" y1="253.01" x2="63.8" y2="253.01" stroke="#000" stroke-width="1.6"/><line x1="58.8" y1="244.54" x2="63.8" y2="244.54" stroke="#000" stroke-width="1.6"/><line x1="58.8" y1="236.07" x2="63.8" y2="236.07" stroke="#000" stroke-width="1.6"/><line x1="60.7" y1="398" x2="60.7" y2="408.2" stroke="#000" stroke-width="1.6"/><text x="60.7" y="424.6" text-anchor="middle" font-size="11.6" fill="#000">0</text><line x1="117.16" y1="398" x2="117.16" y2="408.2" stroke="#000" stroke-width="1.6"/><text x="117.16" y="424.6" text-anchor="middle" font-size="11.6" fill="#000">1</text><line x1="173.62" y1="398" x2="173.62" y2="408.2" stroke="#000" stroke-width="1.6"/><text x="173.62" y="424.6" text-anchor="middle" font-size="11.6" fill="#000">2</text><line x1="230.08" y1="398" x2="230.08" y2="408.2" stroke="#000" stroke-width="1.6"/><text x="230.08" y="424.6" text-anchor="middle" font-size="11.6" fill="#000">3</text><line x1="286.54" y1="398" x2="286.54" y2="408.2" stroke="#000" stroke-width="1.6"/><text x="286.54" y="424.6" text-anchor="middle" font-size="11.6" fill="#000">4</text><line x1="343" y1="398" x2="343" y2="408.2" stroke="#000" stroke-width="1.6"/><text x="343" y="424.6" text-anchor="middle" font-size="11.6" fill="#000">5</text><text x="53.4" y="401.4" text-anchor="end" font-size="12.5" fill="#000">0</text><text x="53.4" y="367.52" text-anchor="end" font-size="12.5" fill="#000">2000</text><text x="53.4" y="333.64" text-anchor="end" font-size="12.5" fill="#000">4000</text><text x="53.4" y="299.76" text-anchor="end" font-size="12.5" fill="#000">6000</text><text x="53.4" y="265.88" text-anchor="end" font-size="12.5" fill="#000">8000</text><text x="201.9" y="438.5" text-anchor="middle" font-size="13" fill="#000" textLength="74.8" lengthAdjust="spacingAndGlyphs">Energy / KeV</text><text transform="translate(10.9 310.6) rotate(-90)" text-anchor="middle" font-size="13" fill="#000" textLength="67.4" lengthAdjust="spacingAndGlyphs">Count / a.u.</text><text x="151.9" y="258.5" font-size="12.6" fill="#000" textLength="38.9" lengthAdjust="spacingAndGlyphs">Nb(Lα)</text><text x="114.5" y="341.2" font-size="12.6" fill="#000" textLength="39.3" lengthAdjust="spacingAndGlyphs">Al (Kα)</text><rect x="216.8" y="272.4" width="106.4" height="35.2" fill="#fff" stroke="#000" stroke-width="1.2"/><line x1="222.1" y1="283.5" x2="245.6" y2="283.5" stroke="#000" stroke-width="1.7"/><line x1="222.1" y1="297.7" x2="245.6" y2="297.7" stroke="#ff0000" stroke-width="1.7"/><text x="251.4" y="287.4" font-size="12.6" fill="#000" textLength="67.6" lengthAdjust="spacingAndGlyphs">Before HPR</text><text x="250.9" y="302" font-size="12.6" fill="#000" textLength="56.4" lengthAdjust="spacingAndGlyphs">After HPR</text><text x="16.2" y="12.4" font-size="16.8" font-weight="bold" fill="#000" textLength="20.2" lengthAdjust="spacingAndGlyphs">(a)</text><text x="15.5" y="225.4" font-size="16.8" font-weight="bold" fill="#000" textLength="20.6" lengthAdjust="spacingAndGlyphs">(c)</text><text x="347.8" y="14.7" font-size="16.4" font-weight="bold" fill="#000" textLength="21.8" lengthAdjust="spacingAndGlyphs">(b)</text><defs><linearGradient id="grsb" x1="0" y1="0.3" x2="1" y2="0"><stop offset="0" stop-color="#a4a4a4"/><stop offset="0.5" stop-color="#afafaf"/><stop offset="1" stop-color="#bababa"/></linearGradient><linearGradient id="grsa" x1="0" y1="0" x2="0.15" y2="1"><stop offset="0" stop-color="#a1a1a1"/><stop offset="0.5" stop-color="#ababab"/><stop offset="1" stop-color="#b9b9b9"/></linearGradient><filter id="grain" x="0" y="0" width="1" height="1" color-interpolation-filters="sRGB"><feTurbulence type="fractalNoise" baseFrequency="0.1 0.4" numOctaves="2" seed="4"/><feColorMatrix type="matrix" values="1.6 0 0 0 -0.13  1.6 0 0 0 -0.13  1.6 0 0 0 -0.13  0 0 0 0 1"/></filter><filter id="soft" x="-0.1" y="-0.1" width="1.2" height="1.2"><feGaussianBlur stdDeviation="0.45"/></filter><filter id="soft2" x="-0.5" y="-0.5" width="2" height="2"><feGaussianBlur stdDeviation="1.5"/></filter><filter id="soft1" x="-0.5" y="-0.5" width="2" height="2"><feGaussianBlur stdDeviation="0.7"/></filter><filter id="soft3" x="-0.5" y="-0.5" width="2" height="2"><feGaussianBlur stdDeviation="6"/></filter></defs><rect x="375.2" y="27.8" width="241.1" height="371.5" fill="#fff" stroke="#000" stroke-width="1.5"/><rect x="377.2" y="29.5" width="4.5" height="368" fill="#f0f0f0"/><rect x="377.2" y="197.3" width="238" height="33.5" fill="#f0f0f0"/><clipPath id="sb"><ellipse cx="500" cy="107.7" rx="115.7" ry="118.5"/></clipPath><clipPath id="sbr"><rect x="382.5" y="28.8" width="233" height="155.7"/></clipPath><rect x="382.5" y="28.8" width="233" height="167.2" fill="#000"/><g clip-path="url(#sbr)"><g clip-path="url(#sb)"><g filter="url(#soft)"><rect x="382" y="28.8" width="234" height="155.7" fill="url(#grsb)"/><g filter="url(#soft1)"><line x1="382" y1="48.82" x2="616" y2="47.41" stroke="#fff" stroke-opacity="0.05" stroke-width="1.5"/><line x1="382" y1="173.32" x2="616" y2="173.81" stroke="#000" stroke-opacity="0.03" stroke-width="0.73"/><line x1="382" y1="86.25" x2="616" y2="84.8" stroke="#fff" stroke-opacity="0.05" stroke-width="1.52"/><line x1="382" y1="151.5" x2="616" y2="151.69" stroke="#000" stroke-opacity="0.05" stroke-width="1.81"/><line x1="382" y1="181.53" x2="616" y2="180.94" stroke="#fff" stroke-opacity="0.05" stroke-width="0.97"/><line x1="382" y1="120.91" x2="616" y2="119.43" stroke="#000" stroke-opacity="0.06" stroke-width="1.02"/><line x1="382" y1="101.52" x2="616" y2="101.24" stroke="#000" stroke-opacity="0.02" stroke-width="1.1"/><line x1="382" y1="51.8" x2="616" y2="50.66" stroke="#000" stroke-opacity="0.03" stroke-width="1.81"/><line x1="382" y1="33.95" x2="616" y2="35.57" stroke="#fff" stroke-opacity="0.04" stroke-width="0.96"/><line x1="382" y1="137.38" x2="616" y2="139.36" stroke="#fff" stroke-opacity="0.02" stroke-width="1.21"/><line x1="382" y1="100.38" x2="616" y2="101.76" stroke="#fff" stroke-opacity="0.02" stroke-width="1.84"/><line x1="382" y1="120.33" x2="616" y2="119.02" stroke="#fff" stroke-opacity="0.04" stroke-width="1.16"/><line x1="382" y1="32.63" x2="616" y2="33.59" stroke="#fff" stroke-opacity="0.04" stroke-width="2.11"/><line x1="382" y1="59.26" x2="616" y2="57.37" stroke="#000" stroke-opacity="0.05" stroke-width="0.71"/><line x1="382" y1="154.16" x2="616" y2="153.33" stroke="#fff" stroke-opacity="0.02" stroke-width="0.94"/><line x1="382" y1="142.01" x2="616" y2="141.27" stroke="#fff" stroke-opacity="0.06" stroke-width="1.49"/><line x1="382" y1="68.99" x2="616" y2="68.74" stroke="#fff" stroke-opacity="0.07" stroke-width="2.36"/><line x1="382" y1="77.74" x2="616" y2="77.36" stroke="#fff" stroke-opacity="0.02" stroke-width="1.94"/><line x1="382" y1="66.96" x2="616" y2="67.61" stroke="#000" stroke-opacity="0.06" stroke-width="2.12"/><line x1="382" y1="136.59" x2="616" y2="137.09" stroke="#fff" stroke-opacity="0.07" stroke-width="2.01"/><line x1="382" y1="51.16" x2="616" y2="52.2" stroke="#000" stroke-opacity="0.06" stroke-width="1.4"/><line x1="382" y1="34.31" x2="616" y2="32.89" stroke="#000" stroke-opacity="0.03" stroke-width="1.25"/><line x1="382" y1="66.84" x2="616" y2="67.39" stroke="#000" stroke-opacity="0.02" stroke-width="1.24"/><line x1="382" y1="53.67" x2="616" y2="52.6" stroke="#000" stroke-opacity="0.02" stroke-width="1.5"/><line x1="382" y1="34.82" x2="616" y2="34.12" stroke="#000" stroke-opacity="0.05" stroke-width="0.81"/><line x1="382" y1="128.99" x2="616" y2="128.57" stroke="#fff" stroke-opacity="0.03" stroke-width="1.23"/><line x1="382" y1="170.9" x2="616" y2="172.75" stroke="#000" stroke-opacity="0.02" stroke-width="0.81"/><line x1="382" y1="170.06" x2="616" y2="170.79" stroke="#000" stroke-opacity="0.02" stroke-width="1.86"/><line x1="382" y1="51.21" x2="616" y2="52.08" stroke="#000" stroke-opacity="0.02" stroke-width="1.44"/><line x1="382" y1="154.08" x2="616" y2="153.08" stroke="#000" stroke-opacity="0.03" stroke-width="1.97"/><line x1="382" y1="50.27" x2="616" y2="50.69" stroke="#fff" stroke-opacity="0.04" stroke-width="1.3"/><line x1="382" y1="122.61" x2="616" y2="123.55" stroke="#fff" stroke-opacity="0.05" stroke-width="1.03"/><line x1="382" y1="74.02" x2="616" y2="74.71" stroke="#000" stroke-opacity="0.04" stroke-width="2.04"/><line x1="382" y1="109.51" x2="616" y2="108.81" stroke="#fff" stroke-opacity="0.07" stroke-width="1.06"/><line x1="382" y1="114.3" x2="616" y2="115.43" stroke="#000" stroke-opacity="0.03" stroke-width="0.65"/><line x1="382" y1="127.98" x2="616" y2="128.56" stroke="#fff" stroke-opacity="0.06" stroke-width="2.22"/><line x1="382" y1="81.75" x2="616" y2="83.26" stroke="#fff" stroke-opacity="0.04" stroke-width="1.95"/><line x1="382" y1="136.3" x2="616" y2="136.09" stroke="#000" stroke-opacity="0.05" stroke-width="1.94"/><line x1="382" y1="116.89" x2="616" y2="117.72" stroke="#000" stroke-opacity="0.05" stroke-width="0.71"/><line x1="382" y1="153.85" x2="616" y2="155.35" stroke="#fff" stroke-opacity="0.06" stroke-width="1.49"/><line x1="382" y1="86.61" x2="616" y2="86.32" stroke="#fff" stroke-opacity="0.05" stroke-width="0.76"/><line x1="382" y1="161.46" x2="616" y2="161.57" stroke="#fff" stroke-opacity="0.05" stroke-width="0.85"/><line x1="382" y1="106.56" x2="616" y2="105.24" stroke="#000" stroke-opacity="0.05" stroke-width="0.84"/><line x1="382" y1="30.59" x2="616" y2="28.76" stroke="#000" stroke-opacity="0.04" stroke-width="0.72"/><line x1="382" y1="183.09" x2="616" y2="181.92" stroke="#fff" stroke-opacity="0.03" stroke-width="1.56"/><line x1="382" y1="139.99" x2="616" y2="141.46" stroke="#fff" stroke-opacity="0.03" stroke-width="1.57"/><line x1="382" y1="148.1" x2="616" y2="149.99" stroke="#000" stroke-opacity="0.04" stroke-width="1.39"/><line x1="382" y1="41.19" x2="616" y2="39.48" stroke="#000" stroke-opacity="0.04" stroke-width="0.89"/><line x1="382" y1="37.13" x2="616" y2="37.57" stroke="#000" stroke-opacity="0.04" stroke-width="1"/><line x1="382" y1="33.35" x2="616" y2="35.01" stroke="#000" stroke-opacity="0.04" stroke-width="0.68"/><line x1="382" y1="85.65" x2="616" y2="86.63" stroke="#fff" stroke-opacity="0.07" stroke-width="2.2"/><line x1="382" y1="85.68" x2="616" y2="86.34" stroke="#fff" stroke-opacity="0.05" stroke-width="0.88"/><line x1="382" y1="154.79" x2="616" y2="156.4" stroke="#fff" stroke-opacity="0.04" stroke-width="2.25"/><line x1="382" y1="164.32" x2="616" y2="163.81" stroke="#000" stroke-opacity="0.05" stroke-width="2.34"/><line x1="382" y1="57.31" x2="616" y2="58.08" stroke="#fff" stroke-opacity="0.06" stroke-width="1.13"/><line x1="382" y1="106.99" x2="616" y2="106.93" stroke="#fff" stroke-opacity="0.07" stroke-width="1.41"/><line x1="382" y1="53.67" x2="616" y2="52.34" stroke="#fff" stroke-opacity="0.04" stroke-width="2.29"/><line x1="382" y1="121.3" x2="616" y2="120.87" stroke="#fff" stroke-opacity="0.03" stroke-width="1.32"/><line x1="382" y1="119.6" x2="616" y2="121.34" stroke="#000" stroke-opacity="0.07" stroke-width="1.53"/><line x1="382" y1="153.31" x2="616" y2="152.91" stroke="#fff" stroke-opacity="0.05" stroke-width="1.46"/><line x1="382" y1="35.27" x2="616" y2="35.14" stroke="#fff" stroke-opacity="0.03" stroke-width="2.04"/><line x1="382" y1="140.57" x2="616" y2="139.22" stroke="#000" stroke-opacity="0.04" stroke-width="1.38"/><line x1="382" y1="30.56" x2="616" y2="30.23" stroke="#000" stroke-opacity="0.05" stroke-width="1.67"/><line x1="382" y1="151.2" x2="616" y2="150.1" stroke="#000" stroke-opacity="0.02" stroke-width="0.63"/><line x1="382" y1="39.27" x2="616" y2="39.53" stroke="#fff" stroke-opacity="0.04" stroke-width="0.83"/><line x1="382" y1="167" x2="616" y2="165.01" stroke="#000" stroke-opacity="0.03" stroke-width="1.26"/><line x1="382" y1="88.72" x2="616" y2="88.93" stroke="#fff" stroke-opacity="0.04" stroke-width="1.17"/><line x1="382" y1="125.98" x2="616" y2="126.61" stroke="#fff" stroke-opacity="0.07" stroke-width="1.95"/><line x1="382" y1="97.63" x2="616" y2="99.4" stroke="#000" stroke-opacity="0.06" stroke-width="0.99"/><line x1="382" y1="156.71" x2="616" y2="155.51" stroke="#fff" stroke-opacity="0.03" stroke-width="2.25"/></g><rect x="382" y="28.8" width="234" height="155.7" filter="url(#grain)" opacity="0.1"/><g filter="url(#soft3)"><ellipse cx="555" cy="110" rx="45" ry="40" fill="#fff" fill-opacity="0.10"/><ellipse cx="545" cy="112" rx="22" ry="15" fill="#fff" fill-opacity="0.08"/><ellipse cx="420" cy="165" rx="40" ry="22" fill="#000" fill-opacity="0.03"/><ellipse cx="425" cy="65" rx="45" ry="35" fill="#000" fill-opacity="0.04"/><ellipse cx="395" cy="120" rx="25" ry="70" fill="#000" fill-opacity="0.05"/><rect x="458" y="29" width="14" height="156" fill="#fff" fill-opacity="0.05"/></g><path d="M474 29 Q476.5 80 479 118 T483 185" fill="none" stroke="#000" stroke-opacity="0.13" stroke-width="1.8" stroke-dasharray="5 2 2 1 3 2.5" filter="url(#soft1)"/><path d="M469 29 Q471.5 80 474 118 T478 185" fill="none" stroke="#fff" stroke-opacity="0.06" stroke-width="5" filter="url(#soft2)"/><path d="M531 44 Q580 42 599 56" fill="none" stroke="#000" stroke-opacity="0.12" stroke-width="0.9"/><path d="M580 69 Q592 70 599 64" fill="none" stroke="#000" stroke-opacity="0.14" stroke-width="0.9"/><path d="M453 132.5 L510 131.8" stroke="#fff" stroke-opacity="0.32" stroke-width="1.6"/><path d="M453 134.3 L510 133.6" stroke="#000" stroke-opacity="0.08" stroke-width="1.2"/><ellipse cx="455" cy="132.5" rx="2.8" ry="1.9" fill="#fff" fill-opacity="0.3"/><ellipse cx="447.37" cy="171.6" rx="1.28" ry="1.07" fill="#fff" fill-opacity="0.3"/><circle cx="448.37" cy="172.8" r="0.75" fill="#000" fill-opacity="0.08"/><ellipse cx="432.35" cy="86.43" rx="1.33" ry="1.11" fill="#fff" fill-opacity="0.3"/><circle cx="433.35" cy="87.63" r="0.78" fill="#000" fill-opacity="0.08"/><ellipse cx="535.49" cy="52.92" rx="2.05" ry="1.71" fill="#fff" fill-opacity="0.3"/><circle cx="536.49" cy="54.12" r="1.19" fill="#000" fill-opacity="0.08"/><ellipse cx="574.91" cy="36.9" rx="1.66" ry="1.39" fill="#fff" fill-opacity="0.3"/><circle cx="575.91" cy="38.1" r="0.97" fill="#000" fill-opacity="0.08"/><ellipse cx="417.14" cy="73.31" rx="1.53" ry="1.28" fill="#fff" fill-opacity="0.3"/><circle cx="418.14" cy="74.51" r="0.89" fill="#000" fill-opacity="0.08"/><ellipse cx="489.96" cy="103.3" rx="2.08" ry="1.73" fill="#fff" fill-opacity="0.3"/><circle cx="490.96" cy="104.5" r="1.21" fill="#000" fill-opacity="0.08"/><ellipse cx="449.04" cy="63.31" rx="1.8" ry="1.5" fill="#fff" fill-opacity="0.3"/><circle cx="450.04" cy="64.51" r="1.05" fill="#000" fill-opacity="0.08"/><ellipse cx="593.49" cy="168.19" rx="2.03" ry="1.69" fill="#fff" fill-opacity="0.3"/><circle cx="594.49" cy="169.39" r="1.18" fill="#000" fill-opacity="0.08"/><ellipse cx="408.21" cy="170.17" rx="1.78" ry="1.48" fill="#fff" fill-opacity="0.3"/><circle cx="409.21" cy="171.37" r="1.04" fill="#000" fill-opacity="0.08"/><ellipse cx="577.73" cy="94.74" rx="1.32" ry="1.1" fill="#fff" fill-opacity="0.3"/><circle cx="578.73" cy="95.94" r="0.77" fill="#000" fill-opacity="0.08"/><ellipse cx="561.22" cy="130.92" rx="1.92" ry="1.6" fill="#fff" fill-opacity="0.3"/><circle cx="562.22" cy="132.12" r="1.12" fill="#000" fill-opacity="0.08"/><ellipse cx="436.98" cy="55.67" rx="1.9" ry="1.59" fill="#fff" fill-opacity="0.3"/><circle cx="437.98" cy="56.87" r="1.11" fill="#000" fill-opacity="0.08"/><ellipse cx="398.95" cy="171.44" rx="1.23" ry="1.02" fill="#fff" fill-opacity="0.3"/><circle cx="399.95" cy="172.64" r="0.72" fill="#000" fill-opacity="0.08"/><ellipse cx="520.72" cy="96.29" rx="1.43" ry="1.19" fill="#fff" fill-opacity="0.3"/><circle cx="521.72" cy="97.49" r="0.83" fill="#000" fill-opacity="0.08"/><ellipse cx="430.45" cy="147.86" rx="2.07" ry="1.72" fill="#fff" fill-opacity="0.3"/><circle cx="431.45" cy="149.06" r="1.21" fill="#000" fill-opacity="0.08"/><ellipse cx="547.76" cy="122.16" rx="1.85" ry="1.54" fill="#fff" fill-opacity="0.3"/><circle cx="548.76" cy="123.36" r="1.08" fill="#000" fill-opacity="0.08"/><ellipse cx="507.28" cy="116.16" rx="2.06" ry="1.72" fill="#fff" fill-opacity="0.3"/><circle cx="508.28" cy="117.36" r="1.2" fill="#000" fill-opacity="0.08"/><ellipse cx="454.05" cy="68.21" rx="2.1" ry="1.75" fill="#fff" fill-opacity="0.3"/><circle cx="455.05" cy="69.41" r="1.23" fill="#000" fill-opacity="0.08"/><ellipse cx="592.75" cy="104.42" rx="1.94" ry="1.62" fill="#fff" fill-opacity="0.3"/><circle cx="593.75" cy="105.62" r="1.13" fill="#000" fill-opacity="0.08"/><ellipse cx="550.78" cy="171.96" rx="1.17" ry="0.97" fill="#fff" fill-opacity="0.3"/><circle cx="551.78" cy="173.16" r="0.68" fill="#000" fill-opacity="0.08"/><ellipse cx="583.31" cy="107.87" rx="1.56" ry="1.3" fill="#fff" fill-opacity="0.3"/><circle cx="584.31" cy="109.07" r="0.91" fill="#000" fill-opacity="0.08"/><ellipse cx="538.92" cy="124.47" rx="1.55" ry="1.29" fill="#fff" fill-opacity="0.3"/><circle cx="539.92" cy="125.67" r="0.91" fill="#000" fill-opacity="0.08"/><circle cx="476.1" cy="66.8" r="1.2" fill="#000" fill-opacity="0.85"/><circle cx="483.5" cy="108.7" r="1.1" fill="#000" fill-opacity="0.85"/><circle cx="486.2" cy="161.8" r="2.0" fill="#000" fill-opacity="0.95"/><circle cx="582" cy="52.5" r="1.0" fill="#000" fill-opacity="0.6"/><circle cx="592" cy="152" r="0.7" fill="#000" fill-opacity="0.5"/><circle cx="407.2" cy="166.5" r="4.1" fill="#0a0a0a"/><path d="M388.6 103.2 Q390.6 98.5 395.6 96.8" fill="none" stroke="#2a2a2a" stroke-width="1.9" stroke-opacity="0.8"/><path d="M387 101 Q389.5 95.5 395 94" fill="none" stroke="#ddd" stroke-width="0.9" stroke-opacity="0.8"/><path d="M387.6 106 C387.5 103 389 101 391 100 L411.5 94.3 C413.5 93.8 414.6 95 414.6 97 L416.2 118.5 C416.4 122 415.5 124.5 413 125.5 L409 126.6 C406.5 127 405 126 403.5 124.5 L389 112 C387.8 110.5 387.6 108.5 387.6 106 Z" fill="none" stroke="#fff" stroke-opacity="0.35" stroke-width="3" filter="url(#soft2)"/><path d="M387.6 106 C387.5 103 389 101 391 100 L411.5 94.3 C413.5 93.8 414.6 95 414.6 97 L416.2 118.5 C416.4 122 415.5 124.5 413 125.5 L409 126.6 C406.5 127 405 126 403.5 124.5 L389 112 C387.8 110.5 387.6 108.5 387.6 106 Z" fill="#fdfdfd"/><path d="M396.6 104 L410.8 99.4 L411.8 118.2 L407.6 120.8 L396.8 110.6 Z" fill="#a2a2a2" stroke="#a2a2a2" stroke-width="0.6" stroke-linejoin="round" filter="url(#soft1)"/><path d="M401.5 107 L409.5 103.5 L409.5 116.5 Z" fill="#808080" filter="url(#soft2)"/><path d="M396.6 104 L410.8 99.4 L411.8 118.2 L407.6 120.8 L396.8 110.6 Z" fill="none" stroke="#fff" stroke-opacity="0.55" stroke-width="2.2" stroke-linejoin="round" filter="url(#soft1)"/><path d="M414.6 98.4 Q419.8 101.5 419.2 105 Q418.6 108 416 108.2" fill="none" stroke="#eeeeee" stroke-width="1.5"/><text x="514.6" y="105.6" font-size="5.6" font-weight="bold" fill="#fff" textLength="32" lengthAdjust="spacingAndGlyphs">2.000 mm</text></g></g></g><line x1="382.5" y1="29.3" x2="615.5" y2="29.3" stroke="#888" stroke-width="0.6"/><line x1="615.2" y1="28.8" x2="615.2" y2="184.5" stroke="#bbb" stroke-width="0.6"/><text x="416.5" y="43.5" font-size="12.2" font-weight="bold" fill="#fff" stroke="#fff" stroke-width="0.6">Before</text><rect x="382.5" y="184.5" width="233.0" height="11.5" fill="#000"/><rect x="383.1" y="185" width="231.8" height="10.5" fill="none" stroke="#666" stroke-width="0.5"/><line x1="393.6" y1="185.1" x2="393.6" y2="195.4" stroke="#666" stroke-width="0.5"/><line x1="412.1" y1="185.1" x2="412.1" y2="195.4" stroke="#666" stroke-width="0.5"/><line x1="425.7" y1="185.1" x2="425.7" y2="195.4" stroke="#666" stroke-width="0.5"/><line x1="444.2" y1="185.1" x2="444.2" y2="195.4" stroke="#666" stroke-width="0.5"/><line x1="461.3" y1="185.1" x2="461.3" y2="195.4" stroke="#666" stroke-width="0.5"/><line x1="483.1" y1="185.1" x2="483.1" y2="195.4" stroke="#666" stroke-width="0.5"/><line x1="492.8" y1="185.1" x2="492.8" y2="195.4" stroke="#666" stroke-width="0.5"/><line x1="507.8" y1="185.1" x2="507.8" y2="195.4" stroke="#666" stroke-width="0.5"/><line x1="517.7" y1="185.1" x2="517.7" y2="195.4" stroke="#666" stroke-width="0.5"/><line x1="545.4" y1="185.1" x2="545.4" y2="195.4" stroke="#666" stroke-width="0.5"/><g font-size="3.7" fill="#c8c8c8" text-anchor="middle"><text x="403" y="189.5">HV</text><text x="403" y="195.1">5.00 kV</text><text x="418.9" y="189.5">det</text><text x="418.9" y="195.1">ETD</text><text x="435" y="189.5">WD</text><text x="435" y="195.1">5.0 mm</text><text x="452.7" y="189.5">mag ⊞</text><text x="452.7" y="195.1">32 x</text><text x="472.2" y="189.5">HFW</text><text x="472.2" y="195.1">4.00 mm</text><text x="488" y="189.5">spot</text><text x="488" y="195.1">3.0</text><text x="500.3" y="189.5">mode</text><text x="500.3" y="195.1">SE</text><text x="512.7" y="189.5">tilt</text><text x="512.7" y="195.1">0 °</text><text x="531.5" y="189.5">3/7/2022</text><text x="531.5" y="195.1">3:36:57 PM</text><text x="579" y="189.5">1 mm</text><text x="579" y="195.1">DESY NanoLab</text></g><line x1="550" y1="188.2" x2="573" y2="188.2" stroke="#ccc" stroke-width="0.7"/><line x1="585" y1="188.2" x2="609" y2="188.2" stroke="#ccc" stroke-width="0.7"/><circle cx="388.3" cy="190.25" r="2.4" fill="none" stroke="#bbb" stroke-width="0.9" stroke-dasharray="1 0.6"/><circle cx="388.3" cy="190.25" r="0.9" fill="#bbb"/><clipPath id="sa"><ellipse cx="500" cy="309.5" rx="115.7" ry="118.5"/></clipPath><clipPath id="sar"><rect x="382.5" y="232.0" width="233" height="153.6"/></clipPath><rect x="382.5" y="232.0" width="233" height="165.6" fill="#000"/><g clip-path="url(#sar)"><g clip-path="url(#sa)"><g filter="url(#soft)"><rect x="382" y="232.0" width="234" height="153.6" fill="url(#grsa)"/><g filter="url(#soft1)"><line x1="382" y1="351.98" x2="616" y2="352.5" stroke="#fff" stroke-opacity="0.07" stroke-width="1.69"/><line x1="382" y1="382.65" x2="616" y2="383.36" stroke="#000" stroke-opacity="0.03" stroke-width="1.36"/><line x1="382" y1="262.29" x2="616" y2="263.7" stroke="#fff" stroke-opacity="0.09" stroke-width="1.81"/><line x1="382" y1="339.35" x2="616" y2="338.71" stroke="#000" stroke-opacity="0.03" stroke-width="1"/><line x1="382" y1="299.8" x2="616" y2="298.84" stroke="#fff" stroke-opacity="0.05" stroke-width="1.78"/><line x1="382" y1="304.54" x2="616" y2="303.3" stroke="#fff" stroke-opacity="0.06" stroke-width="1.97"/><line x1="382" y1="352.52" x2="616" y2="352.73" stroke="#fff" stroke-opacity="0.07" stroke-width="0.94"/><line x1="382" y1="290.98" x2="616" y2="290.09" stroke="#000" stroke-opacity="0.03" stroke-width="0.97"/><line x1="382" y1="234.18" x2="616" y2="234.5" stroke="#000" stroke-opacity="0.08" stroke-width="0.95"/><line x1="382" y1="293.69" x2="616" y2="291.74" stroke="#000" stroke-opacity="0.04" stroke-width="2.07"/><line x1="382" y1="331.18" x2="616" y2="331.54" stroke="#fff" stroke-opacity="0.07" stroke-width="2.35"/><line x1="382" y1="280.66" x2="616" y2="279.04" stroke="#fff" stroke-opacity="0.02" stroke-width="2.26"/><line x1="382" y1="284.12" x2="616" y2="282.29" stroke="#000" stroke-opacity="0.06" stroke-width="2.19"/><line x1="382" y1="258.85" x2="616" y2="259.15" stroke="#000" stroke-opacity="0.06" stroke-width="1.29"/><line x1="382" y1="274.93" x2="616" y2="275.97" stroke="#fff" stroke-opacity="0.05" stroke-width="0.92"/><line x1="382" y1="369.17" x2="616" y2="367.24" stroke="#000" stroke-opacity="0.03" stroke-width="2.05"/><line x1="382" y1="252.77" x2="616" y2="253.52" stroke="#000" stroke-opacity="0.04" stroke-width="1.86"/><line x1="382" y1="330.35" x2="616" y2="328.46" stroke="#000" stroke-opacity="0.08" stroke-width="1.68"/><line x1="382" y1="383.25" x2="616" y2="384.93" stroke="#000" stroke-opacity="0.04" stroke-width="1.38"/><line x1="382" y1="350.7" x2="616" y2="351.95" stroke="#fff" stroke-opacity="0.02" stroke-width="1.9"/><line x1="382" y1="385.36" x2="616" y2="386.35" stroke="#fff" stroke-opacity="0.07" stroke-width="1.11"/><line x1="382" y1="286.77" x2="616" y2="286.66" stroke="#000" stroke-opacity="0.03" stroke-width="0.74"/><line x1="382" y1="337.58" x2="616" y2="338.65" stroke="#fff" stroke-opacity="0.06" stroke-width="1.23"/><line x1="382" y1="233" x2="616" y2="234.06" stroke="#fff" stroke-opacity="0.06" stroke-width="1.66"/><line x1="382" y1="329.46" x2="616" y2="330.92" stroke="#fff" stroke-opacity="0.03" stroke-width="2.31"/><line x1="382" y1="377.04" x2="616" y2="376.86" stroke="#000" stroke-opacity="0.04" stroke-width="1.83"/><line x1="382" y1="314.11" x2="616" y2="314.91" stroke="#fff" stroke-opacity="0.09" stroke-width="1.82"/><line x1="382" y1="372.48" x2="616" y2="370.6" stroke="#000" stroke-opacity="0.04" stroke-width="1.27"/><line x1="382" y1="355.64" x2="616" y2="353.72" stroke="#000" stroke-opacity="0.07" stroke-width="1.48"/><line x1="382" y1="261.14" x2="616" y2="260.25" stroke="#fff" stroke-opacity="0.06" stroke-width="1.35"/><line x1="382" y1="235.87" x2="616" y2="236.27" stroke="#fff" stroke-opacity="0.09" stroke-width="1.37"/><line x1="382" y1="263.34" x2="616" y2="265.23" stroke="#fff" stroke-opacity="0.08" stroke-width="2.35"/><line x1="382" y1="279.79" x2="616" y2="278.05" stroke="#fff" stroke-opacity="0.04" stroke-width="1.84"/><line x1="382" y1="277.15" x2="616" y2="275.19" stroke="#fff" stroke-opacity="0.02" stroke-width="1.34"/><line x1="382" y1="367.19" x2="616" y2="367.42" stroke="#fff" stroke-opacity="0.08" stroke-width="1.35"/><line x1="382" y1="289.12" x2="616" y2="288.69" stroke="#000" stroke-opacity="0.04" stroke-width="2"/><line x1="382" y1="251.53" x2="616" y2="251.08" stroke="#fff" stroke-opacity="0.02" stroke-width="1.35"/><line x1="382" y1="340.68" x2="616" y2="342.03" stroke="#000" stroke-opacity="0.03" stroke-width="2.4"/><line x1="382" y1="336.75" x2="616" y2="336.83" stroke="#000" stroke-opacity="0.05" stroke-width="1.02"/><line x1="382" y1="335.84" x2="616" y2="336.98" stroke="#000" stroke-opacity="0.08" stroke-width="1.16"/><line x1="382" y1="275.03" x2="616" y2="273.35" stroke="#000" stroke-opacity="0.03" stroke-width="1.02"/><line x1="382" y1="285.08" x2="616" y2="284.02" stroke="#fff" stroke-opacity="0.04" stroke-width="1.8"/><line x1="382" y1="304.7" x2="616" y2="306.66" stroke="#000" stroke-opacity="0.04" stroke-width="1.96"/><line x1="382" y1="308.97" x2="616" y2="309.96" stroke="#000" stroke-opacity="0.08" stroke-width="1.09"/><line x1="382" y1="281.99" x2="616" y2="280.03" stroke="#000" stroke-opacity="0.04" stroke-width="1.5"/><line x1="382" y1="366.27" x2="616" y2="367.44" stroke="#000" stroke-opacity="0.03" stroke-width="1.07"/><line x1="382" y1="238.17" x2="616" y2="239.78" stroke="#000" stroke-opacity="0.03" stroke-width="1.13"/><line x1="382" y1="276.75" x2="616" y2="275" stroke="#fff" stroke-opacity="0.02" stroke-width="1.24"/><line x1="382" y1="343.24" x2="616" y2="343.31" stroke="#fff" stroke-opacity="0.05" stroke-width="0.97"/><line x1="382" y1="317.18" x2="616" y2="318.93" stroke="#000" stroke-opacity="0.04" stroke-width="1.22"/><line x1="382" y1="303.78" x2="616" y2="305.61" stroke="#000" stroke-opacity="0.06" stroke-width="1.32"/><line x1="382" y1="298.59" x2="616" y2="297.12" stroke="#000" stroke-opacity="0.09" stroke-width="1.22"/><line x1="382" y1="316.03" x2="616" y2="315.48" stroke="#fff" stroke-opacity="0.06" stroke-width="2.07"/><line x1="382" y1="344.09" x2="616" y2="345.05" stroke="#fff" stroke-opacity="0.02" stroke-width="1.6"/><line x1="382" y1="241.43" x2="616" y2="242.17" stroke="#fff" stroke-opacity="0.06" stroke-width="1.32"/><line x1="382" y1="241.99" x2="616" y2="242.08" stroke="#000" stroke-opacity="0.07" stroke-width="2.28"/><line x1="382" y1="303.5" x2="616" y2="302.74" stroke="#000" stroke-opacity="0.03" stroke-width="1.16"/><line x1="382" y1="364.78" x2="616" y2="366.7" stroke="#000" stroke-opacity="0.02" stroke-width="0.9"/><line x1="382" y1="298.34" x2="616" y2="298.69" stroke="#000" stroke-opacity="0.07" stroke-width="2.17"/><line x1="382" y1="309.82" x2="616" y2="311.38" stroke="#000" stroke-opacity="0.08" stroke-width="1.73"/><line x1="382" y1="344.61" x2="616" y2="343.63" stroke="#fff" stroke-opacity="0.02" stroke-width="2.27"/><line x1="382" y1="233.03" x2="616" y2="231.41" stroke="#000" stroke-opacity="0.03" stroke-width="1.61"/><line x1="382" y1="350.71" x2="616" y2="349.82" stroke="#fff" stroke-opacity="0.09" stroke-width="0.71"/><line x1="382" y1="281.32" x2="616" y2="279.88" stroke="#000" stroke-opacity="0.08" stroke-width="1.87"/><line x1="382" y1="289.43" x2="616" y2="290.26" stroke="#000" stroke-opacity="0.04" stroke-width="1.48"/><line x1="382" y1="339.76" x2="616" y2="339.05" stroke="#fff" stroke-opacity="0.06" stroke-width="1.05"/><line x1="382" y1="351.28" x2="616" y2="352.45" stroke="#fff" stroke-opacity="0.07" stroke-width="1.05"/><line x1="382" y1="256.59" x2="616" y2="257.22" stroke="#fff" stroke-opacity="0.02" stroke-width="2.19"/><line x1="382" y1="287.18" x2="616" y2="286.41" stroke="#000" stroke-opacity="0.03" stroke-width="0.89"/><line x1="382" y1="370.7" x2="616" y2="369.59" stroke="#000" stroke-opacity="0.05" stroke-width="1.94"/><line x1="382" y1="298.22" x2="616" y2="297.5" stroke="#fff" stroke-opacity="0.08" stroke-width="2.05"/><line x1="382" y1="350.83" x2="616" y2="352.17" stroke="#fff" stroke-opacity="0.04" stroke-width="1.12"/><line x1="382" y1="248.94" x2="616" y2="250.65" stroke="#fff" stroke-opacity="0.03" stroke-width="1.81"/><line x1="382" y1="250.46" x2="616" y2="249.79" stroke="#000" stroke-opacity="0.04" stroke-width="2.01"/><line x1="382" y1="314.8" x2="616" y2="316.42" stroke="#fff" stroke-opacity="0.03" stroke-width="2.06"/><line x1="382" y1="272.63" x2="616" y2="274.3" stroke="#000" stroke-opacity="0.08" stroke-width="1.62"/><line x1="382" y1="317.12" x2="616" y2="316.8" stroke="#000" stroke-opacity="0.02" stroke-width="1.81"/><line x1="382" y1="314.16" x2="616" y2="314.79" stroke="#000" stroke-opacity="0.04" stroke-width="1.56"/><line x1="382" y1="313.47" x2="616" y2="315.27" stroke="#000" stroke-opacity="0.07" stroke-width="0.87"/><line x1="382" y1="319.54" x2="616" y2="318.45" stroke="#fff" stroke-opacity="0.06" stroke-width="1.19"/><line x1="382" y1="320.14" x2="616" y2="321.64" stroke="#fff" stroke-opacity="0.09" stroke-width="1.76"/><line x1="382" y1="294.34" x2="616" y2="293.82" stroke="#000" stroke-opacity="0.05" stroke-width="0.66"/><line x1="382" y1="285.91" x2="616" y2="284.95" stroke="#000" stroke-opacity="0.05" stroke-width="2.07"/><line x1="382" y1="247.13" x2="616" y2="246.1" stroke="#fff" stroke-opacity="0.07" stroke-width="1.47"/><line x1="382" y1="318.32" x2="616" y2="317.9" stroke="#000" stroke-opacity="0.06" stroke-width="2.08"/><line x1="382" y1="332.5" x2="616" y2="332.23" stroke="#000" stroke-opacity="0.03" stroke-width="1.97"/><line x1="382" y1="302.45" x2="616" y2="302.88" stroke="#fff" stroke-opacity="0.07" stroke-width="1.49"/><line x1="382" y1="277.75" x2="616" y2="275.94" stroke="#fff" stroke-opacity="0.06" stroke-width="1.06"/><line x1="382" y1="341.11" x2="616" y2="342.44" stroke="#000" stroke-opacity="0.06" stroke-width="0.86"/><line x1="382" y1="248.37" x2="616" y2="247.84" stroke="#fff" stroke-opacity="0.06" stroke-width="1.44"/></g><rect x="382" y="232.0" width="234" height="153.6" filter="url(#grain)" opacity="0.1"/><g filter="url(#soft3)"><rect x="382" y="291" width="234" height="8" fill="#fff" fill-opacity="0.08"/><ellipse cx="405" cy="330" rx="22" ry="60" fill="#000" fill-opacity="0.04"/></g><path d="M382 284.5 L616 282" stroke="#000" stroke-opacity="0.10" stroke-width="1.2"/><path d="M382 289 L616 287" stroke="#000" stroke-opacity="0.07" stroke-width="1"/><path d="M480 232 Q482.5 280 485 310 T488 386" fill="none" stroke="#000" stroke-opacity="0.2" stroke-width="2" stroke-dasharray="5 2 2 1 3 2.5" filter="url(#soft1)"/><path d="M456 331 L523 325.3" stroke="#fff" stroke-opacity="0.32" stroke-width="1.6"/><path d="M456 332.8 L523 327.1" stroke="#000" stroke-opacity="0.08" stroke-width="1.2"/><ellipse cx="457" cy="331" rx="2.8" ry="1.9" fill="#fff" fill-opacity="0.38"/><ellipse cx="521" cy="325.6" rx="2.2" ry="1.6" fill="#fff" fill-opacity="0.3"/><circle cx="503.7" cy="276.5" r="1.7" fill="#fff" fill-opacity="0.3"/><circle cx="504.7" cy="277.6" r="1.2" fill="#000" fill-opacity="0.1"/><circle cx="537.7" cy="343.7" r="1.7" fill="#fff" fill-opacity="0.3"/><circle cx="538.7" cy="344.8" r="1.2" fill="#000" fill-opacity="0.1"/><circle cx="442.5" cy="373.5" r="1.7" fill="#fff" fill-opacity="0.3"/><circle cx="443.5" cy="374.6" r="1.2" fill="#000" fill-opacity="0.1"/><circle cx="423.7" cy="358.59999999999997" r="1.7" fill="#fff" fill-opacity="0.3"/><circle cx="424.7" cy="359.7" r="1.2" fill="#000" fill-opacity="0.1"/><circle cx="560.1" cy="315.7" r="1.7" fill="#fff" fill-opacity="0.3"/><circle cx="561.1" cy="316.8" r="1.2" fill="#000" fill-opacity="0.1"/><circle cx="582.5" cy="337.7" r="1.7" fill="#fff" fill-opacity="0.3"/><circle cx="583.5" cy="338.8" r="1.2" fill="#000" fill-opacity="0.1"/><circle cx="556.3000000000001" cy="306.3" r="1.7" fill="#fff" fill-opacity="0.3"/><circle cx="557.3000000000001" cy="307.40000000000003" r="1.2" fill="#000" fill-opacity="0.1"/><circle cx="547.0" cy="315.7" r="1.7" fill="#fff" fill-opacity="0.3"/><circle cx="548.0" cy="316.8" r="1.2" fill="#000" fill-opacity="0.1"/><circle cx="578.7" cy="297.0" r="1.7" fill="#fff" fill-opacity="0.3"/><circle cx="579.7" cy="298.1" r="1.2" fill="#000" fill-opacity="0.1"/><circle cx="591.7" cy="263.4" r="1.7" fill="#fff" fill-opacity="0.3"/><circle cx="592.7" cy="264.5" r="1.2" fill="#000" fill-opacity="0.1"/><circle cx="463.09999999999997" cy="241.0" r="1.7" fill="#fff" fill-opacity="0.3"/><circle cx="464.09999999999997" cy="242.10000000000002" r="1.2" fill="#000" fill-opacity="0.1"/><circle cx="576.7" cy="239.2" r="1.7" fill="#fff" fill-opacity="0.3"/><circle cx="577.7" cy="240.3" r="1.2" fill="#000" fill-opacity="0.1"/><circle cx="519.7" cy="299.7" r="1.7" fill="#fff" fill-opacity="0.3"/><circle cx="520.7" cy="300.8" r="1.2" fill="#000" fill-opacity="0.1"/><circle cx="599.7" cy="319.7" r="1.7" fill="#fff" fill-opacity="0.3"/><circle cx="600.7" cy="320.8" r="1.2" fill="#000" fill-opacity="0.1"/><ellipse cx="471.63" cy="267.72" rx="1.18" ry="0.98" fill="#fff" fill-opacity="0.3"/><circle cx="472.63" cy="268.92" r="0.69" fill="#000" fill-opacity="0.08"/><ellipse cx="531.87" cy="304.28" rx="2.15" ry="1.79" fill="#fff" fill-opacity="0.3"/><circle cx="532.87" cy="305.48" r="1.25" fill="#000" fill-opacity="0.08"/><ellipse cx="573.53" cy="357.38" rx="1.14" ry="0.95" fill="#fff" fill-opacity="0.3"/><circle cx="574.53" cy="358.58" r="0.66" fill="#000" fill-opacity="0.08"/><ellipse cx="511.32" cy="325.11" rx="1.13" ry="0.95" fill="#fff" fill-opacity="0.3"/><circle cx="512.32" cy="326.31" r="0.66" fill="#000" fill-opacity="0.08"/><ellipse cx="494.94" cy="286.04" rx="1.31" ry="1.09" fill="#fff" fill-opacity="0.3"/><circle cx="495.94" cy="287.24" r="0.77" fill="#000" fill-opacity="0.08"/><ellipse cx="562.07" cy="298.88" rx="1.19" ry="0.99" fill="#fff" fill-opacity="0.3"/><circle cx="563.07" cy="300.08" r="0.7" fill="#000" fill-opacity="0.08"/><ellipse cx="472.2" cy="368.33" rx="1.5" ry="1.25" fill="#fff" fill-opacity="0.3"/><circle cx="473.2" cy="369.53" r="0.88" fill="#000" fill-opacity="0.08"/><ellipse cx="434.04" cy="249.08" rx="1.63" ry="1.36" fill="#fff" fill-opacity="0.3"/><circle cx="435.04" cy="250.28" r="0.95" fill="#000" fill-opacity="0.08"/><ellipse cx="534.89" cy="297.74" rx="2" ry="1.66" fill="#fff" fill-opacity="0.3"/><circle cx="535.89" cy="298.94" r="1.16" fill="#000" fill-opacity="0.08"/><ellipse cx="504.84" cy="351.82" rx="1.69" ry="1.41" fill="#fff" fill-opacity="0.3"/><circle cx="505.84" cy="353.02" r="0.99" fill="#000" fill-opacity="0.08"/><ellipse cx="518.77" cy="297.7" rx="1.2" ry="1" fill="#fff" fill-opacity="0.3"/><circle cx="519.77" cy="298.9" r="0.7" fill="#000" fill-opacity="0.08"/><ellipse cx="542.66" cy="360.39" rx="1.86" ry="1.55" fill="#fff" fill-opacity="0.3"/><circle cx="543.66" cy="361.59" r="1.09" fill="#000" fill-opacity="0.08"/><ellipse cx="482.81" cy="251.95" rx="1.28" ry="1.07" fill="#fff" fill-opacity="0.3"/><circle cx="483.81" cy="253.15" r="0.75" fill="#000" fill-opacity="0.08"/><ellipse cx="510.47" cy="332.33" rx="1.11" ry="0.92" fill="#fff" fill-opacity="0.3"/><circle cx="511.47" cy="333.53" r="0.65" fill="#000" fill-opacity="0.08"/><ellipse cx="592.71" cy="340.18" rx="1.86" ry="1.55" fill="#fff" fill-opacity="0.3"/><circle cx="593.71" cy="341.38" r="1.09" fill="#000" fill-opacity="0.08"/><ellipse cx="602.22" cy="326.99" rx="1.61" ry="1.34" fill="#fff" fill-opacity="0.3"/><circle cx="603.22" cy="328.19" r="0.94" fill="#000" fill-opacity="0.08"/><ellipse cx="441.82" cy="336.05" rx="1.84" ry="1.53" fill="#fff" fill-opacity="0.3"/><circle cx="442.82" cy="337.25" r="1.07" fill="#000" fill-opacity="0.08"/><ellipse cx="594.77" cy="371.02" rx="1.61" ry="1.34" fill="#fff" fill-opacity="0.3"/><circle cx="595.77" cy="372.22" r="0.94" fill="#000" fill-opacity="0.08"/><ellipse cx="573.73" cy="374.4" rx="1.53" ry="1.28" fill="#fff" fill-opacity="0.3"/><circle cx="574.73" cy="375.6" r="0.89" fill="#000" fill-opacity="0.08"/><ellipse cx="522.04" cy="323.14" rx="1.6" ry="1.33" fill="#fff" fill-opacity="0.3"/><circle cx="523.04" cy="324.34" r="0.93" fill="#000" fill-opacity="0.08"/><ellipse cx="493.2" cy="270.85" rx="1.28" ry="1.07" fill="#fff" fill-opacity="0.3"/><circle cx="494.2" cy="272.05" r="0.75" fill="#000" fill-opacity="0.08"/><ellipse cx="459.46" cy="322.94" rx="1.79" ry="1.49" fill="#fff" fill-opacity="0.3"/><circle cx="460.46" cy="324.14" r="1.05" fill="#000" fill-opacity="0.08"/><ellipse cx="566.77" cy="280.04" rx="1.64" ry="1.36" fill="#fff" fill-opacity="0.3"/><circle cx="567.77" cy="281.24" r="0.95" fill="#000" fill-opacity="0.08"/><ellipse cx="489.9" cy="263.67" rx="2.14" ry="1.78" fill="#fff" fill-opacity="0.3"/><circle cx="490.9" cy="264.87" r="1.25" fill="#000" fill-opacity="0.08"/><ellipse cx="465.16" cy="336.82" rx="1.83" ry="1.52" fill="#fff" fill-opacity="0.3"/><circle cx="466.16" cy="338.02" r="1.07" fill="#000" fill-opacity="0.08"/><ellipse cx="556.58" cy="356.87" rx="2.1" ry="1.75" fill="#fff" fill-opacity="0.3"/><circle cx="557.58" cy="358.07" r="1.23" fill="#000" fill-opacity="0.08"/><ellipse cx="462.08" cy="333.68" rx="1.42" ry="1.19" fill="#fff" fill-opacity="0.3"/><circle cx="463.08" cy="334.88" r="0.83" fill="#000" fill-opacity="0.08"/><ellipse cx="457.25" cy="351.17" rx="1.89" ry="1.57" fill="#fff" fill-opacity="0.3"/><circle cx="458.25" cy="352.37" r="1.1" fill="#000" fill-opacity="0.08"/><ellipse cx="548.4" cy="256.97" rx="2.12" ry="1.77" fill="#fff" fill-opacity="0.3"/><circle cx="549.4" cy="258.17" r="1.24" fill="#000" fill-opacity="0.08"/><ellipse cx="526.64" cy="305.06" rx="2.07" ry="1.72" fill="#fff" fill-opacity="0.3"/><circle cx="527.64" cy="306.26" r="1.21" fill="#000" fill-opacity="0.08"/><line x1="417.5" y1="305.2" x2="530.4" y2="305" stroke="#e2e2e2" stroke-width="0.8"/><circle cx="530" cy="305" r="1.3" fill="#fff" fill-opacity="0.7"/><ellipse cx="486" cy="305" rx="3" ry="2.6" fill="#000" fill-opacity="0.45" filter="url(#soft1)"/><circle cx="486.3" cy="304.8" r="1.1" fill="#000" fill-opacity="0.7"/><circle cx="537.7" cy="302.8" r="1.2" fill="#000" fill-opacity="0.85"/><circle cx="540.3" cy="303" r="0.8" fill="#000" fill-opacity="0.6"/><circle cx="566" cy="244" r="0.8" fill="#000" fill-opacity="0.5"/><path d="M387.6 301.5 Q390 294.5 395 292" fill="none" stroke="#f4f4f4" stroke-width="1.6"/><path d="M386.6 307.5 C386.5 304.5 388 302.5 390 301.6 L410.5 293 C412.5 292.3 413.7 293.5 413.7 295.5 L415.5 317 C415.7 320.5 414.8 323.3 412.3 324.3 L408.5 325.6 C406 326.1 404.5 325.2 403 323.7 L388 313.5 C386.8 312 386.6 310 386.6 307.5 Z" fill="none" stroke="#fff" stroke-opacity="0.35" stroke-width="3" filter="url(#soft2)"/><path d="M386.6 307.5 C386.5 304.5 388 302.5 390 301.6 L410.5 293 C412.5 292.3 413.7 293.5 413.7 295.5 L415.5 317 C415.7 320.5 414.8 323.3 412.3 324.3 L408.5 325.6 C406 326.1 404.5 325.2 403 323.7 L388 313.5 C386.8 312 386.6 310 386.6 307.5 Z" fill="#fdfdfd"/><path d="M395 305.2 L410.2 298.4 L411.6 317 L407.2 320 L396 311.4 Z" fill="#9e9e9e" stroke="#9e9e9e" stroke-width="0.6" stroke-linejoin="round" filter="url(#soft1)"/><path d="M399.5 306.5 L409 302 L408.5 316 Z" fill="#7e7e7e" filter="url(#soft2)"/><path d="M395 305.2 L410.2 298.4 L411.6 317 L407.2 320 L396 311.4 Z" fill="none" stroke="#fff" stroke-opacity="0.55" stroke-width="2.2" stroke-linejoin="round" filter="url(#soft1)"/><circle cx="404.5" cy="308.5" r="0.9" fill="#333"/><circle cx="398.5" cy="311" r="0.7" fill="#444"/><path d="M413.8 297 Q419.2 299.5 419.2 303.5 Q418.8 306.8 416 307.3" fill="none" stroke="#eeeeee" stroke-width="1.5"/><text x="461.6" y="304.4" font-size="4.6" font-weight="bold" fill="#fff" textLength="21.4" lengthAdjust="spacingAndGlyphs">2.000 mm</text></g></g></g><line x1="382.5" y1="232.5" x2="615.5" y2="232.5" stroke="#888" stroke-width="0.6"/><line x1="615.2" y1="232" x2="615.2" y2="385.6" stroke="#bbb" stroke-width="0.6"/><text x="417.6" y="243.6" font-size="12.6" font-weight="bold" fill="#fff" stroke="#fff" stroke-width="0.6">After</text><rect x="382.5" y="385.6" width="233.0" height="12" fill="#000"/><rect x="383.1" y="386.1" width="231.8" height="11" fill="none" stroke="#666" stroke-width="0.5"/><line x1="393.6" y1="386.2" x2="393.6" y2="397" stroke="#666" stroke-width="0.5"/><line x1="412.1" y1="386.2" x2="412.1" y2="397" stroke="#666" stroke-width="0.5"/><line x1="425.7" y1="386.2" x2="425.7" y2="397" stroke="#666" stroke-width="0.5"/><line x1="444.2" y1="386.2" x2="444.2" y2="397" stroke="#666" stroke-width="0.5"/><line x1="461.3" y1="386.2" x2="461.3" y2="397" stroke="#666" stroke-width="0.5"/><line x1="483.1" y1="386.2" x2="483.1" y2="397" stroke="#666" stroke-width="0.5"/><line x1="492.8" y1="386.2" x2="492.8" y2="397" stroke="#666" stroke-width="0.5"/><line x1="507.8" y1="386.2" x2="507.8" y2="397" stroke="#666" stroke-width="0.5"/><line x1="517.7" y1="386.2" x2="517.7" y2="397" stroke="#666" stroke-width="0.5"/><line x1="545.4" y1="386.2" x2="545.4" y2="397" stroke="#666" stroke-width="0.5"/><g font-size="3.7" fill="#c8c8c8" text-anchor="middle"><text x="403" y="390.6">HV</text><text x="403" y="396.2">5.00 kV</text><text x="418.9" y="390.6">det</text><text x="418.9" y="396.2">ETD</text><text x="435" y="390.6">WD</text><text x="435" y="396.2">5.0 mm</text><text x="452.7" y="390.6">mag ⊞</text><text x="452.7" y="396.2">32 x</text><text x="472.2" y="390.6">HFW</text><text x="472.2" y="396.2">4.00 mm</text><text x="488" y="390.6">spot</text><text x="488" y="396.2">3.0</text><text x="500.3" y="390.6">mode</text><text x="500.3" y="396.2">SE</text><text x="512.7" y="390.6">tilt</text><text x="512.7" y="396.2">0 °</text><text x="531.5" y="390.6">4/1/2022</text><text x="531.5" y="396.2">1:53:34 PM</text><text x="579" y="390.6">1 mm</text><text x="579" y="396.2">DESY NanoLab</text></g><line x1="550" y1="389.3" x2="573" y2="389.3" stroke="#ccc" stroke-width="0.7"/><line x1="585" y1="389.3" x2="609" y2="389.3" stroke="#ccc" stroke-width="0.7"/><circle cx="388.3" cy="391.6" r="2.4" fill="none" stroke="#bbb" stroke-width="0.9" stroke-dasharray="1 0.6"/><circle cx="388.3" cy="391.6" r="0.9" fill="#bbb"/></svg></body></html>
